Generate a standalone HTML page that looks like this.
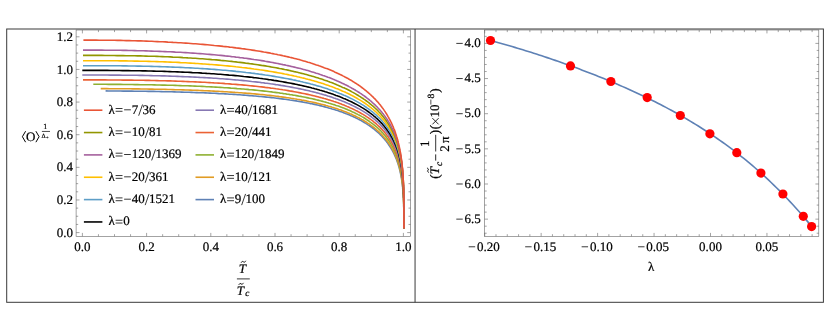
<!DOCTYPE html>
<html><head><meta charset="utf-8"><title>plot</title>
<style>html,body{margin:0;padding:0;background:#fff;}body{width:830px;height:331px;overflow:hidden;font-family:"Liberation Serif",serif;}svg{display:block;will-change:transform}.t .h{fill:none;stroke:none}.t text{font-family:"Liberation Serif",serif;fill:#000;text-rendering:geometricPrecision;stroke:#000;stroke-width:0.22px;}</style></head>
<body>
<svg width="830" height="331" viewBox="0 0 830 331">
<rect width="830" height="331" fill="#fff"/>
<g id="leftframe">
<rect x="76.10" y="30.00" width="334.50" height="206.30" fill="none" stroke="#666" stroke-width="0.6"/>
<line x1="82.40" y1="236.30" x2="82.40" y2="232.90" stroke="#666" stroke-width="0.6"/>
<line x1="82.40" y1="30.00" x2="82.40" y2="33.40" stroke="#666" stroke-width="0.6"/>
<line x1="98.45" y1="236.30" x2="98.45" y2="234.20" stroke="#666" stroke-width="0.6"/>
<line x1="98.45" y1="30.00" x2="98.45" y2="32.10" stroke="#666" stroke-width="0.6"/>
<line x1="114.50" y1="236.30" x2="114.50" y2="234.20" stroke="#666" stroke-width="0.6"/>
<line x1="114.50" y1="30.00" x2="114.50" y2="32.10" stroke="#666" stroke-width="0.6"/>
<line x1="130.55" y1="236.30" x2="130.55" y2="234.20" stroke="#666" stroke-width="0.6"/>
<line x1="130.55" y1="30.00" x2="130.55" y2="32.10" stroke="#666" stroke-width="0.6"/>
<line x1="146.60" y1="236.30" x2="146.60" y2="232.90" stroke="#666" stroke-width="0.6"/>
<line x1="146.60" y1="30.00" x2="146.60" y2="33.40" stroke="#666" stroke-width="0.6"/>
<line x1="162.65" y1="236.30" x2="162.65" y2="234.20" stroke="#666" stroke-width="0.6"/>
<line x1="162.65" y1="30.00" x2="162.65" y2="32.10" stroke="#666" stroke-width="0.6"/>
<line x1="178.70" y1="236.30" x2="178.70" y2="234.20" stroke="#666" stroke-width="0.6"/>
<line x1="178.70" y1="30.00" x2="178.70" y2="32.10" stroke="#666" stroke-width="0.6"/>
<line x1="194.75" y1="236.30" x2="194.75" y2="234.20" stroke="#666" stroke-width="0.6"/>
<line x1="194.75" y1="30.00" x2="194.75" y2="32.10" stroke="#666" stroke-width="0.6"/>
<line x1="210.80" y1="236.30" x2="210.80" y2="232.90" stroke="#666" stroke-width="0.6"/>
<line x1="210.80" y1="30.00" x2="210.80" y2="33.40" stroke="#666" stroke-width="0.6"/>
<line x1="226.85" y1="236.30" x2="226.85" y2="234.20" stroke="#666" stroke-width="0.6"/>
<line x1="226.85" y1="30.00" x2="226.85" y2="32.10" stroke="#666" stroke-width="0.6"/>
<line x1="242.90" y1="236.30" x2="242.90" y2="234.20" stroke="#666" stroke-width="0.6"/>
<line x1="242.90" y1="30.00" x2="242.90" y2="32.10" stroke="#666" stroke-width="0.6"/>
<line x1="258.95" y1="236.30" x2="258.95" y2="234.20" stroke="#666" stroke-width="0.6"/>
<line x1="258.95" y1="30.00" x2="258.95" y2="32.10" stroke="#666" stroke-width="0.6"/>
<line x1="275.00" y1="236.30" x2="275.00" y2="232.90" stroke="#666" stroke-width="0.6"/>
<line x1="275.00" y1="30.00" x2="275.00" y2="33.40" stroke="#666" stroke-width="0.6"/>
<line x1="291.05" y1="236.30" x2="291.05" y2="234.20" stroke="#666" stroke-width="0.6"/>
<line x1="291.05" y1="30.00" x2="291.05" y2="32.10" stroke="#666" stroke-width="0.6"/>
<line x1="307.10" y1="236.30" x2="307.10" y2="234.20" stroke="#666" stroke-width="0.6"/>
<line x1="307.10" y1="30.00" x2="307.10" y2="32.10" stroke="#666" stroke-width="0.6"/>
<line x1="323.15" y1="236.30" x2="323.15" y2="234.20" stroke="#666" stroke-width="0.6"/>
<line x1="323.15" y1="30.00" x2="323.15" y2="32.10" stroke="#666" stroke-width="0.6"/>
<line x1="339.20" y1="236.30" x2="339.20" y2="232.90" stroke="#666" stroke-width="0.6"/>
<line x1="339.20" y1="30.00" x2="339.20" y2="33.40" stroke="#666" stroke-width="0.6"/>
<line x1="355.25" y1="236.30" x2="355.25" y2="234.20" stroke="#666" stroke-width="0.6"/>
<line x1="355.25" y1="30.00" x2="355.25" y2="32.10" stroke="#666" stroke-width="0.6"/>
<line x1="371.30" y1="236.30" x2="371.30" y2="234.20" stroke="#666" stroke-width="0.6"/>
<line x1="371.30" y1="30.00" x2="371.30" y2="32.10" stroke="#666" stroke-width="0.6"/>
<line x1="387.35" y1="236.30" x2="387.35" y2="234.20" stroke="#666" stroke-width="0.6"/>
<line x1="387.35" y1="30.00" x2="387.35" y2="32.10" stroke="#666" stroke-width="0.6"/>
<line x1="403.40" y1="236.30" x2="403.40" y2="232.90" stroke="#666" stroke-width="0.6"/>
<line x1="403.40" y1="30.00" x2="403.40" y2="33.40" stroke="#666" stroke-width="0.6"/>
<line x1="76.10" y1="232.60" x2="79.50" y2="232.60" stroke="#666" stroke-width="0.6"/>
<line x1="410.60" y1="232.60" x2="407.20" y2="232.60" stroke="#666" stroke-width="0.6"/>
<line x1="76.10" y1="224.44" x2="78.20" y2="224.44" stroke="#666" stroke-width="0.6"/>
<line x1="410.60" y1="224.44" x2="408.50" y2="224.44" stroke="#666" stroke-width="0.6"/>
<line x1="76.10" y1="216.28" x2="78.20" y2="216.28" stroke="#666" stroke-width="0.6"/>
<line x1="410.60" y1="216.28" x2="408.50" y2="216.28" stroke="#666" stroke-width="0.6"/>
<line x1="76.10" y1="208.12" x2="78.20" y2="208.12" stroke="#666" stroke-width="0.6"/>
<line x1="410.60" y1="208.12" x2="408.50" y2="208.12" stroke="#666" stroke-width="0.6"/>
<line x1="76.10" y1="199.97" x2="79.50" y2="199.97" stroke="#666" stroke-width="0.6"/>
<line x1="410.60" y1="199.97" x2="407.20" y2="199.97" stroke="#666" stroke-width="0.6"/>
<line x1="76.10" y1="191.81" x2="78.20" y2="191.81" stroke="#666" stroke-width="0.6"/>
<line x1="410.60" y1="191.81" x2="408.50" y2="191.81" stroke="#666" stroke-width="0.6"/>
<line x1="76.10" y1="183.65" x2="78.20" y2="183.65" stroke="#666" stroke-width="0.6"/>
<line x1="410.60" y1="183.65" x2="408.50" y2="183.65" stroke="#666" stroke-width="0.6"/>
<line x1="76.10" y1="175.49" x2="78.20" y2="175.49" stroke="#666" stroke-width="0.6"/>
<line x1="410.60" y1="175.49" x2="408.50" y2="175.49" stroke="#666" stroke-width="0.6"/>
<line x1="76.10" y1="167.33" x2="79.50" y2="167.33" stroke="#666" stroke-width="0.6"/>
<line x1="410.60" y1="167.33" x2="407.20" y2="167.33" stroke="#666" stroke-width="0.6"/>
<line x1="76.10" y1="159.18" x2="78.20" y2="159.18" stroke="#666" stroke-width="0.6"/>
<line x1="410.60" y1="159.18" x2="408.50" y2="159.18" stroke="#666" stroke-width="0.6"/>
<line x1="76.10" y1="151.02" x2="78.20" y2="151.02" stroke="#666" stroke-width="0.6"/>
<line x1="410.60" y1="151.02" x2="408.50" y2="151.02" stroke="#666" stroke-width="0.6"/>
<line x1="76.10" y1="142.86" x2="78.20" y2="142.86" stroke="#666" stroke-width="0.6"/>
<line x1="410.60" y1="142.86" x2="408.50" y2="142.86" stroke="#666" stroke-width="0.6"/>
<line x1="76.10" y1="134.70" x2="79.50" y2="134.70" stroke="#666" stroke-width="0.6"/>
<line x1="410.60" y1="134.70" x2="407.20" y2="134.70" stroke="#666" stroke-width="0.6"/>
<line x1="76.10" y1="126.54" x2="78.20" y2="126.54" stroke="#666" stroke-width="0.6"/>
<line x1="410.60" y1="126.54" x2="408.50" y2="126.54" stroke="#666" stroke-width="0.6"/>
<line x1="76.10" y1="118.38" x2="78.20" y2="118.38" stroke="#666" stroke-width="0.6"/>
<line x1="410.60" y1="118.38" x2="408.50" y2="118.38" stroke="#666" stroke-width="0.6"/>
<line x1="76.10" y1="110.22" x2="78.20" y2="110.22" stroke="#666" stroke-width="0.6"/>
<line x1="410.60" y1="110.22" x2="408.50" y2="110.22" stroke="#666" stroke-width="0.6"/>
<line x1="76.10" y1="102.07" x2="79.50" y2="102.07" stroke="#666" stroke-width="0.6"/>
<line x1="410.60" y1="102.07" x2="407.20" y2="102.07" stroke="#666" stroke-width="0.6"/>
<line x1="76.10" y1="93.91" x2="78.20" y2="93.91" stroke="#666" stroke-width="0.6"/>
<line x1="410.60" y1="93.91" x2="408.50" y2="93.91" stroke="#666" stroke-width="0.6"/>
<line x1="76.10" y1="85.75" x2="78.20" y2="85.75" stroke="#666" stroke-width="0.6"/>
<line x1="410.60" y1="85.75" x2="408.50" y2="85.75" stroke="#666" stroke-width="0.6"/>
<line x1="76.10" y1="77.59" x2="78.20" y2="77.59" stroke="#666" stroke-width="0.6"/>
<line x1="410.60" y1="77.59" x2="408.50" y2="77.59" stroke="#666" stroke-width="0.6"/>
<line x1="76.10" y1="69.43" x2="79.50" y2="69.43" stroke="#666" stroke-width="0.6"/>
<line x1="410.60" y1="69.43" x2="407.20" y2="69.43" stroke="#666" stroke-width="0.6"/>
<line x1="76.10" y1="61.27" x2="78.20" y2="61.27" stroke="#666" stroke-width="0.6"/>
<line x1="410.60" y1="61.27" x2="408.50" y2="61.27" stroke="#666" stroke-width="0.6"/>
<line x1="76.10" y1="53.12" x2="78.20" y2="53.12" stroke="#666" stroke-width="0.6"/>
<line x1="410.60" y1="53.12" x2="408.50" y2="53.12" stroke="#666" stroke-width="0.6"/>
<line x1="76.10" y1="44.96" x2="78.20" y2="44.96" stroke="#666" stroke-width="0.6"/>
<line x1="410.60" y1="44.96" x2="408.50" y2="44.96" stroke="#666" stroke-width="0.6"/>
<line x1="76.10" y1="36.80" x2="79.50" y2="36.80" stroke="#666" stroke-width="0.6"/>
<line x1="410.60" y1="36.80" x2="407.20" y2="36.80" stroke="#666" stroke-width="0.6"/>
</g>
<g id="curves">
<path d="M105.6 90.9 L108.6 91.0 L111.5 91.0 L114.5 91.0 L117.4 91.0 L120.3 91.0 L123.2 91.1 L126.1 91.1 L128.9 91.1 L131.7 91.1 L134.5 91.2 L137.3 91.2 L140.1 91.2 L142.8 91.3 L145.6 91.3 L148.3 91.4 L151.0 91.4 L153.6 91.4 L156.3 91.5 L158.9 91.5 L161.5 91.6 L164.1 91.7 L166.7 91.7 L169.3 91.8 L171.8 91.8 L174.3 91.9 L176.8 92.0 L179.3 92.0 L181.8 92.1 L184.3 92.2 L186.7 92.2 L189.1 92.3 L191.5 92.4 L193.9 92.5 L196.2 92.6 L198.6 92.7 L200.9 92.7 L203.2 92.8 L205.5 92.9 L207.8 93.0 L210.0 93.1 L212.3 93.2 L214.5 93.3 L216.7 93.4 L218.9 93.6 L221.0 93.7 L223.2 93.8 L225.3 93.9 L227.4 94.0 L229.5 94.2 L231.6 94.3 L233.7 94.4 L235.7 94.5 L237.8 94.7 L239.8 94.8 L241.8 95.0 L243.8 95.1 L245.7 95.2 L247.7 95.4 L249.6 95.6 L251.6 95.7 L253.5 95.9 L255.3 96.0 L257.2 96.2 L259.1 96.4 L260.9 96.5 L262.7 96.7 L264.6 96.9 L266.3 97.1 L268.1 97.3 L269.9 97.4 L271.6 97.6 L273.4 97.8 L275.1 98.0 L276.8 98.2 L278.5 98.4 L280.1 98.7 L281.8 98.9 L283.4 99.1 L285.1 99.3 L286.7 99.5 L288.3 99.7 L289.9 100.0 L291.4 100.2 L293.0 100.4 L294.5 100.7 L296.1 100.9 L297.6 101.2 L299.1 101.4 L300.6 101.7 L302.0 101.9 L303.5 102.2 L304.9 102.5 L306.3 102.7 L307.8 103.0 L309.2 103.3 L310.5 103.6 L311.9 103.8 L313.3 104.1 L314.6 104.4 L316.0 104.7 L317.3 105.0 L318.6 105.3 L319.9 105.6 L321.2 105.9 L322.4 106.2 L323.7 106.6 L324.9 106.9 L326.1 107.2 L327.4 107.5 L328.6 107.9 L329.7 108.2 L330.9 108.5 L332.1 108.9 L333.2 109.2 L334.4 109.6 L335.5 109.9 L336.6 110.3 L337.7 110.6 L338.8 111.0 L339.9 111.4 L341.0 111.7 L342.0 112.1 L343.1 112.5 L344.1 112.9 L345.1 113.3 L346.1 113.7 L347.1 114.0 L348.1 114.4 L349.1 114.8 L350.0 115.2 L351.0 115.7 L351.9 116.1 L352.9 116.5 L353.8 116.9 L354.7 117.3 L355.6 117.8 L356.5 118.2 L357.3 118.6 L358.2 119.1 L359.0 119.5 L359.9 119.9 L360.7 120.4 L361.5 120.8 L362.3 121.3 L363.1 121.7 L363.9 122.2 L364.7 122.7 L365.5 123.1 L366.2 123.6 L367.0 124.1 L367.7 124.6 L368.5 125.1 L369.2 125.5 L369.9 126.0 L370.6 126.5 L371.3 127.0 L371.9 127.5 L372.6 128.0 L373.3 128.5 L373.9 129.0 L374.6 129.5 L375.2 130.1 L375.8 130.6 L376.4 131.1 L377.0 131.6 L377.6 132.2 L378.2 132.7 L378.8 133.2 L379.4 133.8 L379.9 134.3 L380.5 134.9 L381.0 135.4 L381.6 135.9 L382.1 136.5 L382.6 137.1 L383.1 137.6 L383.6 138.2 L384.1 138.7 L384.6 139.3 L385.1 139.9 L385.6 140.5 L386.0 141.0 L386.5 141.6 L386.9 142.2 L387.4 142.8 L387.8 143.4 L388.2 144.0 L388.6 144.6 L389.0 145.2 L389.4 145.8 L389.8 146.4 L390.2 147.0 L390.6 147.6 L391.0 148.2 L391.3 148.8 L391.7 149.4 L392.1 150.1 L392.4 150.7 L392.7 151.3 L393.1 151.9 L393.4 152.6 L393.7 153.2 L394.0 153.8 L394.3 154.5 L394.6 155.1 L394.9 155.8 L395.2 156.4 L395.5 157.1 L395.8 157.7 L396.0 158.4 L396.3 159.0 L396.6 159.7 L396.8 160.4 L397.0 161.0 L397.3 161.7 L397.5 162.4 L397.7 163.0 L398.0 163.7 L398.2 164.4 L398.4 165.1 L398.6 165.8 L398.8 166.4 L399.0 167.1 L399.2 167.8 L399.4 168.5 L399.6 169.2 L399.7 169.9 L399.9 170.6 L400.1 171.3 L400.2 172.0 L400.4 172.7 L400.5 173.4 L400.7 174.2 L400.8 174.9 L401.0 175.6 L401.1 176.3 L401.2 177.1 L401.4 177.8 L401.5 178.5 L401.6 179.2 L401.7 180.0 L401.8 180.7 L401.9 181.5 L402.0 182.2 L402.1 183.0 L402.2 183.7 L402.3 184.5 L402.4 185.2 L402.5 186.0 L402.6 186.7 L402.7 187.5 L402.7 188.3 L402.8 189.1 L402.9 189.8 L402.9 190.6 L403.0 191.4 L403.1 192.2 L403.1 193.0 L403.2 193.8 L403.2 194.6 L403.3 195.4 L403.3 196.2 L403.4 197.0 L403.4 197.8 L403.5 198.6 L403.5 199.4 L403.5 200.2 L403.6 201.1 L403.6 201.9 L403.6 202.7 L403.7 203.6 L403.7 204.4 L403.7 205.3 L403.7 206.2 L403.7 207.0 L403.8 207.9 L403.8 208.8 L403.8 209.7 L403.8 210.6 L403.8 211.5 L403.8 212.4 L403.8 213.3 L403.9 214.2 L403.9 215.2 L403.9 216.1 L403.9 217.1 L403.9 218.0 L403.9 219.0 L403.9 220.0 L403.9 221.1 L403.9 222.1 L403.9 223.2 L403.9 224.2 L403.9 225.4 L403.9 226.5 L403.9 227.7 L403.9 228.6" fill="none" stroke="#5E81B5" stroke-width="1.6" stroke-linejoin="round"/>
<path d="M100.7 88.6 L103.7 88.6 L106.7 88.6 L109.7 88.7 L112.7 88.7 L115.7 88.7 L118.6 88.7 L121.5 88.7 L124.4 88.8 L127.3 88.8 L130.1 88.8 L132.9 88.9 L135.8 88.9 L138.6 88.9 L141.3 89.0 L144.1 89.0 L146.8 89.0 L149.5 89.1 L152.2 89.1 L154.9 89.2 L157.6 89.2 L160.2 89.3 L162.8 89.3 L165.4 89.4 L168.0 89.5 L170.6 89.5 L173.1 89.6 L175.6 89.7 L178.2 89.7 L180.6 89.8 L183.1 89.9 L185.6 90.0 L188.0 90.0 L190.4 90.1 L192.8 90.2 L195.2 90.3 L197.6 90.4 L199.9 90.5 L202.2 90.6 L204.5 90.7 L206.8 90.8 L209.1 90.9 L211.4 91.0 L213.6 91.1 L215.8 91.2 L218.0 91.3 L220.2 91.5 L222.4 91.6 L224.5 91.7 L226.7 91.8 L228.8 92.0 L230.9 92.1 L233.0 92.2 L235.0 92.4 L237.1 92.5 L239.1 92.7 L241.1 92.8 L243.1 93.0 L245.1 93.1 L247.1 93.3 L249.1 93.4 L251.0 93.6 L252.9 93.8 L254.8 93.9 L256.7 94.1 L258.6 94.3 L260.4 94.5 L262.3 94.6 L264.1 94.8 L265.9 95.0 L267.7 95.2 L269.5 95.4 L271.2 95.6 L273.0 95.8 L274.7 96.0 L276.4 96.2 L278.1 96.4 L279.8 96.7 L281.5 96.9 L283.1 97.1 L284.8 97.3 L286.4 97.6 L288.0 97.8 L289.6 98.0 L291.2 98.3 L292.7 98.5 L294.3 98.8 L295.8 99.0 L297.3 99.3 L298.9 99.5 L300.3 99.8 L301.8 100.1 L303.3 100.3 L304.7 100.6 L306.2 100.9 L307.6 101.2 L309.0 101.5 L310.4 101.7 L311.8 102.0 L313.2 102.3 L314.5 102.6 L315.9 102.9 L317.2 103.2 L318.5 103.5 L319.8 103.9 L321.1 104.2 L322.4 104.5 L323.6 104.8 L324.9 105.1 L326.1 105.5 L327.3 105.8 L328.5 106.2 L329.7 106.5 L330.9 106.8 L332.1 107.2 L333.2 107.5 L334.4 107.9 L335.5 108.3 L336.6 108.6 L337.7 109.0 L338.8 109.4 L339.9 109.7 L341.0 110.1 L342.1 110.5 L343.1 110.9 L344.1 111.3 L345.2 111.7 L346.2 112.1 L347.2 112.5 L348.2 112.9 L349.2 113.3 L350.1 113.7 L351.1 114.1 L352.0 114.5 L352.9 115.0 L353.9 115.4 L354.8 115.8 L355.7 116.2 L356.6 116.7 L357.4 117.1 L358.3 117.6 L359.2 118.0 L360.0 118.5 L360.8 118.9 L361.7 119.4 L362.5 119.8 L363.3 120.3 L364.1 120.8 L364.8 121.2 L365.6 121.7 L366.4 122.2 L367.1 122.7 L367.9 123.2 L368.6 123.6 L369.3 124.1 L370.0 124.6 L370.7 125.1 L371.4 125.6 L372.1 126.1 L372.8 126.6 L373.4 127.2 L374.1 127.7 L374.7 128.2 L375.4 128.7 L376.0 129.2 L376.6 129.8 L377.2 130.3 L377.8 130.8 L378.4 131.4 L379.0 131.9 L379.6 132.4 L380.1 133.0 L380.7 133.5 L381.2 134.1 L381.7 134.6 L382.3 135.2 L382.8 135.8 L383.3 136.3 L383.8 136.9 L384.3 137.5 L384.8 138.0 L385.3 138.6 L385.7 139.2 L386.2 139.8 L386.6 140.4 L387.1 140.9 L387.5 141.5 L388.0 142.1 L388.4 142.7 L388.8 143.3 L389.2 143.9 L389.6 144.5 L390.0 145.1 L390.4 145.8 L390.8 146.4 L391.1 147.0 L391.5 147.6 L391.9 148.2 L392.2 148.8 L392.6 149.5 L392.9 150.1 L393.2 150.7 L393.5 151.4 L393.9 152.0 L394.2 152.7 L394.5 153.3 L394.8 153.9 L395.1 154.6 L395.4 155.2 L395.6 155.9 L395.9 156.6 L396.2 157.2 L396.4 157.9 L396.7 158.6 L396.9 159.2 L397.2 159.9 L397.4 160.6 L397.6 161.2 L397.9 161.9 L398.1 162.6 L398.3 163.3 L398.5 164.0 L398.7 164.7 L398.9 165.4 L399.1 166.1 L399.3 166.7 L399.5 167.5 L399.7 168.2 L399.8 168.9 L400.0 169.6 L400.2 170.3 L400.3 171.0 L400.5 171.7 L400.6 172.4 L400.8 173.2 L400.9 173.9 L401.1 174.6 L401.2 175.3 L401.3 176.1 L401.4 176.8 L401.6 177.6 L401.7 178.3 L401.8 179.0 L401.9 179.8 L402.0 180.5 L402.1 181.3 L402.2 182.1 L402.3 182.8 L402.4 183.6 L402.5 184.4 L402.6 185.1 L402.6 185.9 L402.7 186.7 L402.8 187.5 L402.9 188.3 L402.9 189.0 L403.0 189.8 L403.1 190.6 L403.1 191.4 L403.2 192.2 L403.2 193.1 L403.3 193.9 L403.3 194.7 L403.4 195.5 L403.4 196.3 L403.5 197.2 L403.5 198.0 L403.5 198.8 L403.6 199.7 L403.6 200.5 L403.6 201.4 L403.7 202.3 L403.7 203.1 L403.7 204.0 L403.7 204.9 L403.7 205.8 L403.8 206.7 L403.8 207.6 L403.8 208.5 L403.8 209.4 L403.8 210.3 L403.8 211.3 L403.8 212.2 L403.9 213.2 L403.9 214.2 L403.9 215.1 L403.9 216.1 L403.9 217.2 L403.9 218.2 L403.9 219.2 L403.9 220.3 L403.9 221.4 L403.9 222.5 L403.9 223.6 L403.9 224.8 L403.9 226.0 L403.9 227.3 L403.9 228.6" fill="none" stroke="#E19C24" stroke-width="1.6" stroke-linejoin="round"/>
<path d="M93.3 84.3 L96.4 84.3 L99.5 84.3 L102.6 84.3 L105.6 84.3 L108.6 84.4 L111.6 84.4 L114.6 84.4 L117.6 84.4 L120.5 84.4 L123.4 84.5 L126.3 84.5 L129.2 84.5 L132.1 84.5 L134.9 84.6 L137.7 84.6 L140.5 84.7 L143.3 84.7 L146.1 84.7 L148.8 84.8 L151.6 84.8 L154.3 84.9 L156.9 85.0 L159.6 85.0 L162.3 85.1 L164.9 85.1 L167.5 85.2 L170.1 85.3 L172.6 85.3 L175.2 85.4 L177.7 85.5 L180.2 85.6 L182.7 85.7 L185.2 85.7 L187.7 85.8 L190.1 85.9 L192.5 86.0 L194.9 86.1 L197.3 86.2 L199.7 86.3 L202.0 86.4 L204.4 86.5 L206.7 86.7 L209.0 86.8 L211.2 86.9 L213.5 87.0 L215.7 87.1 L218.0 87.3 L220.2 87.4 L222.3 87.5 L224.5 87.7 L226.7 87.8 L228.8 87.9 L230.9 88.1 L233.0 88.2 L235.1 88.4 L237.2 88.6 L239.2 88.7 L241.3 88.9 L243.3 89.0 L245.3 89.2 L247.3 89.4 L249.2 89.6 L251.2 89.7 L253.1 89.9 L255.0 90.1 L256.9 90.3 L258.8 90.5 L260.7 90.7 L262.5 90.9 L264.4 91.1 L266.2 91.3 L268.0 91.5 L269.8 91.7 L271.5 91.9 L273.3 92.2 L275.0 92.4 L276.8 92.6 L278.5 92.8 L280.2 93.1 L281.9 93.3 L283.5 93.6 L285.2 93.8 L286.8 94.1 L288.4 94.3 L290.0 94.6 L291.6 94.8 L293.2 95.1 L294.7 95.3 L296.3 95.6 L297.8 95.9 L299.3 96.2 L300.8 96.4 L302.3 96.7 L303.8 97.0 L305.3 97.3 L306.7 97.6 L308.1 97.9 L309.5 98.2 L310.9 98.5 L312.3 98.8 L313.7 99.1 L315.1 99.4 L316.4 99.8 L317.7 100.1 L319.1 100.4 L320.4 100.8 L321.7 101.1 L322.9 101.4 L324.2 101.8 L325.5 102.1 L326.7 102.5 L327.9 102.8 L329.1 103.2 L330.3 103.5 L331.5 103.9 L332.7 104.3 L333.9 104.6 L335.0 105.0 L336.1 105.4 L337.3 105.8 L338.4 106.1 L339.5 106.5 L340.6 106.9 L341.6 107.3 L342.7 107.7 L343.7 108.1 L344.8 108.5 L345.8 108.9 L346.8 109.3 L347.8 109.8 L348.8 110.2 L349.8 110.6 L350.7 111.0 L351.7 111.5 L352.6 111.9 L353.6 112.3 L354.5 112.8 L355.4 113.2 L356.3 113.7 L357.2 114.1 L358.1 114.6 L358.9 115.0 L359.8 115.5 L360.6 115.9 L361.5 116.4 L362.3 116.9 L363.1 117.3 L363.9 117.8 L364.7 118.3 L365.5 118.8 L366.2 119.3 L367.0 119.8 L367.7 120.3 L368.5 120.8 L369.2 121.2 L369.9 121.8 L370.6 122.3 L371.3 122.8 L372.0 123.3 L372.7 123.8 L373.4 124.3 L374.0 124.8 L374.7 125.4 L375.3 125.9 L375.9 126.4 L376.6 127.0 L377.2 127.5 L377.8 128.0 L378.4 128.6 L379.0 129.1 L379.5 129.7 L380.1 130.2 L380.7 130.8 L381.2 131.3 L381.7 131.9 L382.3 132.5 L382.8 133.0 L383.3 133.6 L383.8 134.2 L384.3 134.7 L384.8 135.3 L385.3 135.9 L385.8 136.5 L386.2 137.1 L386.7 137.7 L387.1 138.3 L387.6 138.9 L388.0 139.5 L388.4 140.1 L388.9 140.7 L389.3 141.3 L389.7 141.9 L390.1 142.5 L390.4 143.1 L390.8 143.7 L391.2 144.4 L391.6 145.0 L391.9 145.6 L392.3 146.2 L392.6 146.9 L393.0 147.5 L393.3 148.2 L393.6 148.8 L393.9 149.4 L394.2 150.1 L394.6 150.7 L394.9 151.4 L395.1 152.0 L395.4 152.7 L395.7 153.4 L396.0 154.0 L396.2 154.7 L396.5 155.4 L396.8 156.0 L397.0 156.7 L397.3 157.4 L397.5 158.1 L397.7 158.8 L398.0 159.4 L398.2 160.1 L398.4 160.8 L398.6 161.5 L398.8 162.2 L399.0 162.9 L399.2 163.6 L399.4 164.3 L399.6 165.0 L399.7 165.8 L399.9 166.5 L400.1 167.2 L400.2 167.9 L400.4 168.6 L400.6 169.4 L400.7 170.1 L400.9 170.8 L401.0 171.6 L401.1 172.3 L401.3 173.1 L401.4 173.8 L401.5 174.6 L401.6 175.3 L401.7 176.1 L401.9 176.8 L402.0 177.6 L402.1 178.4 L402.2 179.2 L402.3 179.9 L402.4 180.7 L402.4 181.5 L402.5 182.3 L402.6 183.1 L402.7 183.9 L402.8 184.7 L402.8 185.5 L402.9 186.3 L403.0 187.1 L403.0 187.9 L403.1 188.7 L403.2 189.6 L403.2 190.4 L403.3 191.2 L403.3 192.1 L403.4 192.9 L403.4 193.8 L403.4 194.6 L403.5 195.5 L403.5 196.4 L403.6 197.2 L403.6 198.1 L403.6 199.0 L403.6 199.9 L403.7 200.8 L403.7 201.7 L403.7 202.6 L403.7 203.6 L403.8 204.5 L403.8 205.4 L403.8 206.4 L403.8 207.4 L403.8 208.3 L403.8 209.3 L403.8 210.3 L403.9 211.3 L403.9 212.4 L403.9 213.4 L403.9 214.4 L403.9 215.5 L403.9 216.6 L403.9 217.7 L403.9 218.9 L403.9 220.0 L403.9 221.2 L403.9 222.5 L403.9 223.8 L403.9 225.1 L403.9 226.5 L403.9 228.1 L403.9 228.6" fill="none" stroke="#8FB032" stroke-width="1.6" stroke-linejoin="round"/>
<path d="M83.0 79.9 L86.2 79.9 L89.4 79.9 L92.6 79.9 L95.7 79.9 L98.8 79.9 L101.9 79.9 L105.0 79.9 L108.1 80.0 L111.1 80.0 L114.1 80.0 L117.1 80.0 L120.1 80.0 L123.1 80.1 L126.0 80.1 L128.9 80.1 L131.8 80.1 L134.7 80.2 L137.5 80.2 L140.4 80.3 L143.2 80.3 L146.0 80.4 L148.8 80.4 L151.5 80.5 L154.2 80.5 L157.0 80.6 L159.6 80.7 L162.3 80.7 L165.0 80.8 L167.6 80.9 L170.2 80.9 L172.8 81.0 L175.4 81.1 L178.0 81.2 L180.5 81.3 L183.0 81.4 L185.5 81.5 L188.0 81.6 L190.5 81.7 L192.9 81.8 L195.3 81.9 L197.7 82.0 L200.1 82.1 L202.5 82.2 L204.8 82.3 L207.2 82.5 L209.5 82.6 L211.8 82.7 L214.1 82.9 L216.3 83.0 L218.6 83.1 L220.8 83.3 L223.0 83.4 L225.2 83.6 L227.4 83.7 L229.5 83.9 L231.6 84.1 L233.8 84.2 L235.9 84.4 L237.9 84.6 L240.0 84.8 L242.1 84.9 L244.1 85.1 L246.1 85.3 L248.1 85.5 L250.1 85.7 L252.0 85.9 L254.0 86.1 L255.9 86.3 L257.8 86.5 L259.7 86.7 L261.6 86.9 L263.5 87.1 L265.3 87.4 L267.2 87.6 L269.0 87.8 L270.8 88.1 L272.6 88.3 L274.3 88.5 L276.1 88.8 L277.8 89.0 L279.5 89.3 L281.2 89.5 L282.9 89.8 L284.6 90.0 L286.2 90.3 L287.9 90.6 L289.5 90.9 L291.1 91.1 L292.7 91.4 L294.3 91.7 L295.9 92.0 L297.4 92.3 L299.0 92.6 L300.5 92.9 L302.0 93.2 L303.5 93.5 L305.0 93.8 L306.4 94.1 L307.9 94.4 L309.3 94.7 L310.7 95.0 L312.1 95.4 L313.5 95.7 L314.9 96.0 L316.2 96.4 L317.6 96.7 L318.9 97.1 L320.3 97.4 L321.6 97.8 L322.9 98.1 L324.1 98.5 L325.4 98.8 L326.7 99.2 L327.9 99.6 L329.1 99.9 L330.3 100.3 L331.5 100.7 L332.7 101.1 L333.9 101.5 L335.0 101.8 L336.2 102.2 L337.3 102.6 L338.5 103.0 L339.6 103.4 L340.7 103.8 L341.7 104.3 L342.8 104.7 L343.9 105.1 L344.9 105.5 L346.0 105.9 L347.0 106.4 L348.0 106.8 L349.0 107.2 L350.0 107.7 L350.9 108.1 L351.9 108.6 L352.9 109.0 L353.8 109.4 L354.7 109.9 L355.6 110.4 L356.5 110.8 L357.4 111.3 L358.3 111.8 L359.2 112.2 L360.1 112.7 L360.9 113.2 L361.7 113.7 L362.6 114.1 L363.4 114.6 L364.2 115.1 L365.0 115.6 L365.8 116.1 L366.5 116.6 L367.3 117.1 L368.1 117.6 L368.8 118.1 L369.5 118.6 L370.2 119.1 L371.0 119.7 L371.7 120.2 L372.4 120.7 L373.0 121.2 L373.7 121.8 L374.4 122.3 L375.0 122.8 L375.7 123.4 L376.3 123.9 L376.9 124.5 L377.5 125.0 L378.1 125.6 L378.7 126.1 L379.3 126.7 L379.9 127.2 L380.5 127.8 L381.0 128.4 L381.6 128.9 L382.1 129.5 L382.6 130.1 L383.2 130.7 L383.7 131.2 L384.2 131.8 L384.7 132.4 L385.2 133.0 L385.6 133.6 L386.1 134.2 L386.6 134.8 L387.0 135.4 L387.5 136.0 L387.9 136.6 L388.4 137.2 L388.8 137.8 L389.2 138.5 L389.6 139.1 L390.0 139.7 L390.4 140.3 L390.8 140.9 L391.2 141.6 L391.5 142.2 L391.9 142.8 L392.3 143.5 L392.6 144.1 L392.9 144.8 L393.3 145.4 L393.6 146.1 L393.9 146.7 L394.2 147.4 L394.6 148.0 L394.9 148.7 L395.1 149.4 L395.4 150.0 L395.7 150.7 L396.0 151.4 L396.3 152.1 L396.5 152.7 L396.8 153.4 L397.0 154.1 L397.3 154.8 L397.5 155.5 L397.8 156.2 L398.0 156.9 L398.2 157.6 L398.4 158.3 L398.6 159.0 L398.8 159.7 L399.0 160.4 L399.2 161.1 L399.4 161.9 L399.6 162.6 L399.8 163.3 L400.0 164.0 L400.1 164.8 L400.3 165.5 L400.4 166.3 L400.6 167.0 L400.8 167.7 L400.9 168.5 L401.0 169.2 L401.2 170.0 L401.3 170.8 L401.4 171.5 L401.6 172.3 L401.7 173.1 L401.8 173.8 L401.9 174.6 L402.0 175.4 L402.1 176.2 L402.2 177.0 L402.3 177.8 L402.4 178.6 L402.5 179.4 L402.6 180.2 L402.7 181.0 L402.7 181.8 L402.8 182.7 L402.9 183.5 L402.9 184.3 L403.0 185.2 L403.1 186.0 L403.1 186.9 L403.2 187.7 L403.2 188.6 L403.3 189.4 L403.3 190.3 L403.4 191.2 L403.4 192.1 L403.5 193.0 L403.5 193.9 L403.5 194.8 L403.6 195.7 L403.6 196.6 L403.6 197.5 L403.7 198.5 L403.7 199.4 L403.7 200.4 L403.7 201.3 L403.8 202.3 L403.8 203.3 L403.8 204.3 L403.8 205.3 L403.8 206.3 L403.8 207.3 L403.8 208.4 L403.9 209.5 L403.9 210.5 L403.9 211.6 L403.9 212.7 L403.9 213.9 L403.9 215.0 L403.9 216.2 L403.9 217.5 L403.9 218.7 L403.9 220.0 L403.9 221.3 L403.9 222.7 L403.9 224.2 L403.9 225.8 L403.9 227.5 L403.9 228.6 L403.9 228.6 L403.9 228.6" fill="none" stroke="#EB6235" stroke-width="1.6" stroke-linejoin="round"/>
<path d="M82.3 75.0 L85.5 75.0 L88.7 75.0 L91.9 75.0 L95.0 75.0 L98.2 75.0 L101.3 75.0 L104.4 75.0 L107.4 75.0 L110.5 75.1 L113.5 75.1 L116.5 75.1 L119.5 75.1 L122.5 75.2 L125.4 75.2 L128.3 75.2 L131.2 75.3 L134.1 75.3 L137.0 75.3 L139.8 75.4 L142.6 75.4 L145.4 75.5 L148.2 75.5 L151.0 75.6 L153.7 75.7 L156.4 75.7 L159.1 75.8 L161.8 75.9 L164.5 75.9 L167.1 76.0 L169.7 76.1 L172.3 76.2 L174.9 76.3 L177.5 76.4 L180.0 76.5 L182.5 76.6 L185.0 76.7 L187.5 76.8 L190.0 76.9 L192.4 77.0 L194.9 77.1 L197.3 77.2 L199.7 77.4 L202.1 77.5 L204.4 77.6 L206.7 77.8 L209.1 77.9 L211.4 78.0 L213.7 78.2 L215.9 78.3 L218.2 78.5 L220.4 78.7 L222.6 78.8 L224.8 79.0 L227.0 79.1 L229.1 79.3 L231.3 79.5 L233.4 79.7 L235.5 79.9 L237.6 80.0 L239.7 80.2 L241.7 80.4 L243.7 80.6 L245.8 80.8 L247.8 81.0 L249.7 81.2 L251.7 81.5 L253.7 81.7 L255.6 81.9 L257.5 82.1 L259.4 82.3 L261.3 82.6 L263.2 82.8 L265.0 83.1 L266.9 83.3 L268.7 83.5 L270.5 83.8 L272.3 84.0 L274.0 84.3 L275.8 84.6 L277.5 84.8 L279.3 85.1 L281.0 85.4 L282.7 85.6 L284.3 85.9 L286.0 86.2 L287.6 86.5 L289.3 86.8 L290.9 87.1 L292.5 87.4 L294.1 87.7 L295.6 88.0 L297.2 88.3 L298.7 88.6 L300.3 88.9 L301.8 89.2 L303.3 89.5 L304.7 89.9 L306.2 90.2 L307.7 90.5 L309.1 90.8 L310.5 91.2 L311.9 91.5 L313.3 91.9 L314.7 92.2 L316.1 92.6 L317.4 92.9 L318.7 93.3 L320.1 93.7 L321.4 94.0 L322.7 94.4 L324.0 94.8 L325.2 95.1 L326.5 95.5 L327.7 95.9 L329.0 96.3 L330.2 96.7 L331.4 97.1 L332.6 97.5 L333.7 97.9 L334.9 98.3 L336.0 98.7 L337.2 99.1 L338.3 99.5 L339.4 99.9 L340.5 100.3 L341.6 100.8 L342.7 101.2 L343.7 101.6 L344.8 102.0 L345.8 102.5 L346.9 102.9 L347.9 103.4 L348.9 103.8 L349.9 104.3 L350.8 104.7 L351.8 105.2 L352.7 105.6 L353.7 106.1 L354.6 106.6 L355.5 107.0 L356.4 107.5 L357.3 108.0 L358.2 108.4 L359.1 108.9 L360.0 109.4 L360.8 109.9 L361.6 110.4 L362.5 110.9 L363.3 111.4 L364.1 111.9 L364.9 112.4 L365.7 112.9 L366.5 113.4 L367.2 113.9 L368.0 114.4 L368.7 114.9 L369.5 115.5 L370.2 116.0 L370.9 116.5 L371.6 117.0 L372.3 117.6 L373.0 118.1 L373.6 118.6 L374.3 119.2 L375.0 119.7 L375.6 120.3 L376.2 120.8 L376.9 121.4 L377.5 121.9 L378.1 122.5 L378.7 123.0 L379.3 123.6 L379.8 124.2 L380.4 124.7 L381.0 125.3 L381.5 125.9 L382.1 126.5 L382.6 127.1 L383.1 127.6 L383.6 128.2 L384.1 128.8 L384.6 129.4 L385.1 130.0 L385.6 130.6 L386.1 131.2 L386.5 131.8 L387.0 132.4 L387.4 133.0 L387.9 133.6 L388.3 134.2 L388.7 134.9 L389.2 135.5 L389.6 136.1 L390.0 136.7 L390.4 137.4 L390.8 138.0 L391.1 138.6 L391.5 139.3 L391.9 139.9 L392.2 140.6 L392.6 141.2 L392.9 141.9 L393.3 142.5 L393.6 143.2 L393.9 143.8 L394.2 144.5 L394.5 145.2 L394.8 145.8 L395.1 146.5 L395.4 147.2 L395.7 147.8 L396.0 148.5 L396.2 149.2 L396.5 149.9 L396.8 150.6 L397.0 151.3 L397.3 152.0 L397.5 152.7 L397.7 153.4 L398.0 154.1 L398.2 154.8 L398.4 155.5 L398.6 156.2 L398.8 156.9 L399.0 157.6 L399.2 158.4 L399.4 159.1 L399.6 159.8 L399.8 160.6 L399.9 161.3 L400.1 162.0 L400.3 162.8 L400.4 163.5 L400.6 164.3 L400.7 165.0 L400.9 165.8 L401.0 166.6 L401.2 167.3 L401.3 168.1 L401.4 168.9 L401.6 169.6 L401.7 170.4 L401.8 171.2 L401.9 172.0 L402.0 172.8 L402.1 173.6 L402.2 174.4 L402.3 175.2 L402.4 176.0 L402.5 176.8 L402.6 177.7 L402.7 178.5 L402.7 179.3 L402.8 180.2 L402.9 181.0 L402.9 181.9 L403.0 182.7 L403.1 183.6 L403.1 184.4 L403.2 185.3 L403.2 186.2 L403.3 187.1 L403.3 188.0 L403.4 188.9 L403.4 189.8 L403.5 190.7 L403.5 191.6 L403.5 192.5 L403.6 193.5 L403.6 194.4 L403.6 195.4 L403.7 196.3 L403.7 197.3 L403.7 198.3 L403.7 199.3 L403.8 200.3 L403.8 201.3 L403.8 202.4 L403.8 203.4 L403.8 204.5 L403.8 205.5 L403.8 206.6 L403.9 207.7 L403.9 208.9 L403.9 210.0 L403.9 211.2 L403.9 212.4 L403.9 213.6 L403.9 214.8 L403.9 216.1 L403.9 217.5 L403.9 218.8 L403.9 220.2 L403.9 221.7 L403.9 223.3 L403.9 225.0 L403.9 226.8 L403.9 228.1 L403.9 228.1 L403.9 228.6" fill="none" stroke="#8778B3" stroke-width="1.6" stroke-linejoin="round"/>
<path d="M82.3 70.4 L85.5 70.4 L88.7 70.4 L91.9 70.4 L95.0 70.4 L98.2 70.4 L101.3 70.4 L104.4 70.4 L107.4 70.4 L110.5 70.5 L113.5 70.5 L116.5 70.5 L119.5 70.5 L122.5 70.6 L125.4 70.6 L128.3 70.6 L131.2 70.7 L134.1 70.7 L137.0 70.8 L139.8 70.8 L142.6 70.9 L145.4 70.9 L148.2 71.0 L151.0 71.0 L153.7 71.1 L156.4 71.2 L159.1 71.2 L161.8 71.3 L164.5 71.4 L167.1 71.5 L169.7 71.6 L172.3 71.7 L174.9 71.8 L177.5 71.9 L180.0 72.0 L182.5 72.1 L185.0 72.2 L187.5 72.3 L190.0 72.4 L192.4 72.6 L194.9 72.7 L197.3 72.8 L199.7 72.9 L202.1 73.1 L204.4 73.2 L206.7 73.4 L209.1 73.5 L211.4 73.7 L213.7 73.8 L215.9 74.0 L218.2 74.2 L220.4 74.3 L222.6 74.5 L224.8 74.7 L227.0 74.9 L229.1 75.1 L231.3 75.2 L233.4 75.4 L235.5 75.6 L237.6 75.8 L239.7 76.0 L241.7 76.2 L243.7 76.5 L245.8 76.7 L247.8 76.9 L249.7 77.1 L251.7 77.3 L253.7 77.6 L255.6 77.8 L257.5 78.0 L259.4 78.3 L261.3 78.5 L263.2 78.8 L265.0 79.0 L266.9 79.3 L268.7 79.6 L270.5 79.8 L272.3 80.1 L274.0 80.4 L275.8 80.6 L277.5 80.9 L279.3 81.2 L281.0 81.5 L282.7 81.8 L284.3 82.1 L286.0 82.4 L287.6 82.7 L289.3 83.0 L290.9 83.3 L292.5 83.6 L294.1 83.9 L295.6 84.2 L297.2 84.5 L298.7 84.9 L300.3 85.2 L301.8 85.5 L303.3 85.9 L304.7 86.2 L306.2 86.5 L307.7 86.9 L309.1 87.2 L310.5 87.6 L311.9 88.0 L313.3 88.3 L314.7 88.7 L316.1 89.0 L317.4 89.4 L318.7 89.8 L320.1 90.2 L321.4 90.5 L322.7 90.9 L324.0 91.3 L325.2 91.7 L326.5 92.1 L327.7 92.5 L329.0 92.9 L330.2 93.3 L331.4 93.7 L332.6 94.1 L333.7 94.5 L334.9 94.9 L336.0 95.4 L337.2 95.8 L338.3 96.2 L339.4 96.6 L340.5 97.1 L341.6 97.5 L342.7 98.0 L343.7 98.4 L344.8 98.8 L345.8 99.3 L346.9 99.7 L347.9 100.2 L348.9 100.7 L349.9 101.1 L350.8 101.6 L351.8 102.0 L352.7 102.5 L353.7 103.0 L354.6 103.5 L355.5 103.9 L356.4 104.4 L357.3 104.9 L358.2 105.4 L359.1 105.9 L360.0 106.4 L360.8 106.9 L361.6 107.4 L362.5 107.9 L363.3 108.4 L364.1 108.9 L364.9 109.4 L365.7 109.9 L366.5 110.4 L367.2 111.0 L368.0 111.5 L368.7 112.0 L369.5 112.5 L370.2 113.1 L370.9 113.6 L371.6 114.2 L372.3 114.7 L373.0 115.2 L373.6 115.8 L374.3 116.3 L375.0 116.9 L375.6 117.4 L376.2 118.0 L376.9 118.6 L377.5 119.1 L378.1 119.7 L378.7 120.3 L379.3 120.8 L379.8 121.4 L380.4 122.0 L381.0 122.6 L381.5 123.2 L382.1 123.7 L382.6 124.3 L383.1 124.9 L383.6 125.5 L384.1 126.1 L384.6 126.7 L385.1 127.3 L385.6 127.9 L386.1 128.5 L386.5 129.1 L387.0 129.8 L387.4 130.4 L387.9 131.0 L388.3 131.6 L388.7 132.2 L389.2 132.9 L389.6 133.5 L390.0 134.1 L390.4 134.8 L390.8 135.4 L391.1 136.1 L391.5 136.7 L391.9 137.3 L392.2 138.0 L392.6 138.7 L392.9 139.3 L393.3 140.0 L393.6 140.6 L393.9 141.3 L394.2 142.0 L394.5 142.6 L394.8 143.3 L395.1 144.0 L395.4 144.7 L395.7 145.4 L396.0 146.0 L396.2 146.7 L396.5 147.4 L396.8 148.1 L397.0 148.8 L397.3 149.5 L397.5 150.2 L397.7 150.9 L398.0 151.7 L398.2 152.4 L398.4 153.1 L398.6 153.8 L398.8 154.5 L399.0 155.3 L399.2 156.0 L399.4 156.7 L399.6 157.5 L399.8 158.2 L399.9 159.0 L400.1 159.7 L400.3 160.5 L400.4 161.2 L400.6 162.0 L400.7 162.7 L400.9 163.5 L401.0 164.3 L401.2 165.1 L401.3 165.8 L401.4 166.6 L401.6 167.4 L401.7 168.2 L401.8 169.0 L401.9 169.8 L402.0 170.6 L402.1 171.4 L402.2 172.3 L402.3 173.1 L402.4 173.9 L402.5 174.7 L402.6 175.6 L402.7 176.4 L402.7 177.3 L402.8 178.1 L402.9 179.0 L402.9 179.8 L403.0 180.7 L403.1 181.6 L403.1 182.5 L403.2 183.4 L403.2 184.3 L403.3 185.2 L403.3 186.1 L403.4 187.0 L403.4 187.9 L403.5 188.8 L403.5 189.8 L403.5 190.7 L403.6 191.7 L403.6 192.7 L403.6 193.6 L403.7 194.6 L403.7 195.6 L403.7 196.6 L403.7 197.7 L403.8 198.7 L403.8 199.7 L403.8 200.8 L403.8 201.9 L403.8 203.0 L403.8 204.1 L403.8 205.2 L403.9 206.4 L403.9 207.5 L403.9 208.7 L403.9 209.9 L403.9 211.2 L403.9 212.4 L403.9 213.7 L403.9 215.1 L403.9 216.4 L403.9 217.9 L403.9 219.4 L403.9 220.9 L403.9 222.6 L403.9 224.4 L403.9 226.4 L403.9 227.7 L403.9 227.7 L403.9 228.6" fill="none" stroke="#000000" stroke-width="1.6" stroke-linejoin="round"/>
<path d="M83.0 65.7 L86.2 65.7 L89.4 65.7 L92.6 65.7 L95.7 65.7 L98.8 65.7 L101.9 65.7 L105.0 65.7 L108.1 65.8 L111.1 65.8 L114.1 65.8 L117.1 65.8 L120.1 65.8 L123.1 65.9 L126.0 65.9 L128.9 66.0 L131.8 66.0 L134.7 66.0 L137.5 66.1 L140.4 66.1 L143.2 66.2 L146.0 66.3 L148.8 66.3 L151.5 66.4 L154.2 66.5 L157.0 66.5 L159.6 66.6 L162.3 66.7 L165.0 66.8 L167.6 66.9 L170.2 67.0 L172.8 67.1 L175.4 67.2 L178.0 67.3 L180.5 67.4 L183.0 67.5 L185.5 67.7 L188.0 67.8 L190.5 67.9 L192.9 68.0 L195.3 68.2 L197.7 68.3 L200.1 68.5 L202.5 68.6 L204.8 68.8 L207.2 68.9 L209.5 69.1 L211.8 69.3 L214.1 69.4 L216.3 69.6 L218.6 69.8 L220.8 70.0 L223.0 70.2 L225.2 70.3 L227.4 70.5 L229.5 70.7 L231.6 70.9 L233.8 71.1 L235.9 71.4 L237.9 71.6 L240.0 71.8 L242.1 72.0 L244.1 72.2 L246.1 72.5 L248.1 72.7 L250.1 72.9 L252.0 73.2 L254.0 73.4 L255.9 73.7 L257.8 73.9 L259.7 74.2 L261.6 74.4 L263.5 74.7 L265.3 75.0 L267.2 75.2 L269.0 75.5 L270.8 75.8 L272.6 76.1 L274.3 76.4 L276.1 76.7 L277.8 77.0 L279.5 77.3 L281.2 77.6 L282.9 77.9 L284.6 78.2 L286.2 78.5 L287.9 78.8 L289.5 79.1 L291.1 79.4 L292.7 79.8 L294.3 80.1 L295.9 80.4 L297.4 80.8 L299.0 81.1 L300.5 81.5 L302.0 81.8 L303.5 82.2 L305.0 82.5 L306.4 82.9 L307.9 83.2 L309.3 83.6 L310.7 84.0 L312.1 84.3 L313.5 84.7 L314.9 85.1 L316.2 85.5 L317.6 85.9 L318.9 86.2 L320.3 86.6 L321.6 87.0 L322.9 87.4 L324.1 87.8 L325.4 88.2 L326.7 88.6 L327.9 89.1 L329.1 89.5 L330.3 89.9 L331.5 90.3 L332.7 90.7 L333.9 91.2 L335.0 91.6 L336.2 92.0 L337.3 92.5 L338.5 92.9 L339.6 93.4 L340.7 93.8 L341.7 94.2 L342.8 94.7 L343.9 95.2 L344.9 95.6 L346.0 96.1 L347.0 96.5 L348.0 97.0 L349.0 97.5 L350.0 98.0 L350.9 98.4 L351.9 98.9 L352.9 99.4 L353.8 99.9 L354.7 100.4 L355.6 100.9 L356.5 101.4 L357.4 101.9 L358.3 102.4 L359.2 102.9 L360.1 103.4 L360.9 103.9 L361.7 104.4 L362.6 104.9 L363.4 105.4 L364.2 105.9 L365.0 106.5 L365.8 107.0 L366.5 107.5 L367.3 108.1 L368.1 108.6 L368.8 109.1 L369.5 109.7 L370.2 110.2 L371.0 110.8 L371.7 111.3 L372.4 111.9 L373.0 112.4 L373.7 113.0 L374.4 113.5 L375.0 114.1 L375.7 114.7 L376.3 115.2 L376.9 115.8 L377.5 116.4 L378.1 117.0 L378.7 117.5 L379.3 118.1 L379.9 118.7 L380.5 119.3 L381.0 119.9 L381.6 120.5 L382.1 121.1 L382.6 121.7 L383.2 122.3 L383.7 122.9 L384.2 123.5 L384.7 124.1 L385.2 124.7 L385.6 125.3 L386.1 126.0 L386.6 126.6 L387.0 127.2 L387.5 127.8 L387.9 128.5 L388.4 129.1 L388.8 129.7 L389.2 130.4 L389.6 131.0 L390.0 131.6 L390.4 132.3 L390.8 132.9 L391.2 133.6 L391.5 134.3 L391.9 134.9 L392.3 135.6 L392.6 136.2 L392.9 136.9 L393.3 137.6 L393.6 138.2 L393.9 138.9 L394.2 139.6 L394.6 140.3 L394.9 141.0 L395.1 141.7 L395.4 142.4 L395.7 143.0 L396.0 143.7 L396.3 144.4 L396.5 145.1 L396.8 145.9 L397.0 146.6 L397.3 147.3 L397.5 148.0 L397.8 148.7 L398.0 149.4 L398.2 150.2 L398.4 150.9 L398.6 151.6 L398.8 152.4 L399.0 153.1 L399.2 153.8 L399.4 154.6 L399.6 155.3 L399.8 156.1 L400.0 156.9 L400.1 157.6 L400.3 158.4 L400.4 159.2 L400.6 159.9 L400.8 160.7 L400.9 161.5 L401.0 162.3 L401.2 163.1 L401.3 163.9 L401.4 164.7 L401.6 165.5 L401.7 166.3 L401.8 167.1 L401.9 167.9 L402.0 168.7 L402.1 169.5 L402.2 170.4 L402.3 171.2 L402.4 172.1 L402.5 172.9 L402.6 173.8 L402.7 174.6 L402.7 175.5 L402.8 176.3 L402.9 177.2 L402.9 178.1 L403.0 179.0 L403.1 179.9 L403.1 180.8 L403.2 181.7 L403.2 182.6 L403.3 183.5 L403.3 184.5 L403.4 185.4 L403.4 186.3 L403.5 187.3 L403.5 188.3 L403.5 189.2 L403.6 190.2 L403.6 191.2 L403.6 192.2 L403.7 193.2 L403.7 194.2 L403.7 195.3 L403.7 196.3 L403.8 197.4 L403.8 198.4 L403.8 199.5 L403.8 200.6 L403.8 201.8 L403.8 202.9 L403.8 204.1 L403.9 205.2 L403.9 206.4 L403.9 207.7 L403.9 208.9 L403.9 210.2 L403.9 211.5 L403.9 212.8 L403.9 214.2 L403.9 215.7 L403.9 217.1 L403.9 218.7 L403.9 220.3 L403.9 222.0 L403.9 223.9 L403.9 226.0 L403.9 227.4 L403.9 227.4 L403.9 228.6" fill="none" stroke="#5D9EC7" stroke-width="1.6" stroke-linejoin="round"/>
<path d="M83.0 60.7 L86.2 60.7 L89.4 60.7 L92.6 60.7 L95.7 60.7 L98.8 60.7 L101.9 60.7 L105.0 60.7 L108.1 60.8 L111.1 60.8 L114.1 60.8 L117.1 60.8 L120.1 60.9 L123.1 60.9 L126.0 60.9 L128.9 61.0 L131.8 61.0 L134.7 61.1 L137.5 61.1 L140.4 61.2 L143.2 61.3 L146.0 61.3 L148.8 61.4 L151.5 61.5 L154.2 61.5 L157.0 61.6 L159.6 61.7 L162.3 61.8 L165.0 61.9 L167.6 62.0 L170.2 62.1 L172.8 62.2 L175.4 62.3 L178.0 62.4 L180.5 62.6 L183.0 62.7 L185.5 62.8 L188.0 63.0 L190.5 63.1 L192.9 63.2 L195.3 63.4 L197.7 63.5 L200.1 63.7 L202.5 63.9 L204.8 64.0 L207.2 64.2 L209.5 64.4 L211.8 64.5 L214.1 64.7 L216.3 64.9 L218.6 65.1 L220.8 65.3 L223.0 65.5 L225.2 65.7 L227.4 65.9 L229.5 66.1 L231.6 66.3 L233.8 66.5 L235.9 66.8 L237.9 67.0 L240.0 67.2 L242.1 67.5 L244.1 67.7 L246.1 67.9 L248.1 68.2 L250.1 68.4 L252.0 68.7 L254.0 69.0 L255.9 69.2 L257.8 69.5 L259.7 69.8 L261.6 70.0 L263.5 70.3 L265.3 70.6 L267.2 70.9 L269.0 71.2 L270.8 71.5 L272.6 71.8 L274.3 72.1 L276.1 72.4 L277.8 72.7 L279.5 73.0 L281.2 73.3 L282.9 73.6 L284.6 74.0 L286.2 74.3 L287.9 74.6 L289.5 75.0 L291.1 75.3 L292.7 75.6 L294.3 76.0 L295.9 76.3 L297.4 76.7 L299.0 77.0 L300.5 77.4 L302.0 77.8 L303.5 78.1 L305.0 78.5 L306.4 78.9 L307.9 79.3 L309.3 79.6 L310.7 80.0 L312.1 80.4 L313.5 80.8 L314.9 81.2 L316.2 81.6 L317.6 82.0 L318.9 82.4 L320.3 82.8 L321.6 83.2 L322.9 83.6 L324.1 84.0 L325.4 84.5 L326.7 84.9 L327.9 85.3 L329.1 85.7 L330.3 86.2 L331.5 86.6 L332.7 87.1 L333.9 87.5 L335.0 87.9 L336.2 88.4 L337.3 88.8 L338.5 89.3 L339.6 89.8 L340.7 90.2 L341.7 90.7 L342.8 91.2 L343.9 91.6 L344.9 92.1 L346.0 92.6 L347.0 93.1 L348.0 93.5 L349.0 94.0 L350.0 94.5 L350.9 95.0 L351.9 95.5 L352.9 96.0 L353.8 96.5 L354.7 97.0 L355.6 97.5 L356.5 98.0 L357.4 98.5 L358.3 99.1 L359.2 99.6 L360.1 100.1 L360.9 100.6 L361.7 101.1 L362.6 101.7 L363.4 102.2 L364.2 102.7 L365.0 103.3 L365.8 103.8 L366.5 104.4 L367.3 104.9 L368.1 105.5 L368.8 106.0 L369.5 106.6 L370.2 107.1 L371.0 107.7 L371.7 108.3 L372.4 108.8 L373.0 109.4 L373.7 110.0 L374.4 110.6 L375.0 111.1 L375.7 111.7 L376.3 112.3 L376.9 112.9 L377.5 113.5 L378.1 114.1 L378.7 114.7 L379.3 115.3 L379.9 115.9 L380.5 116.5 L381.0 117.1 L381.6 117.7 L382.1 118.3 L382.6 118.9 L383.2 119.5 L383.7 120.1 L384.2 120.8 L384.7 121.4 L385.2 122.0 L385.6 122.6 L386.1 123.3 L386.6 123.9 L387.0 124.5 L387.5 125.2 L387.9 125.8 L388.4 126.5 L388.8 127.1 L389.2 127.8 L389.6 128.4 L390.0 129.1 L390.4 129.8 L390.8 130.4 L391.2 131.1 L391.5 131.8 L391.9 132.4 L392.3 133.1 L392.6 133.8 L392.9 134.5 L393.3 135.2 L393.6 135.9 L393.9 136.5 L394.2 137.2 L394.6 137.9 L394.9 138.6 L395.1 139.3 L395.4 140.0 L395.7 140.8 L396.0 141.5 L396.3 142.2 L396.5 142.9 L396.8 143.6 L397.0 144.4 L397.3 145.1 L397.5 145.8 L397.8 146.5 L398.0 147.3 L398.2 148.0 L398.4 148.8 L398.6 149.5 L398.8 150.3 L399.0 151.0 L399.2 151.8 L399.4 152.6 L399.6 153.3 L399.8 154.1 L400.0 154.9 L400.1 155.7 L400.3 156.4 L400.4 157.2 L400.6 158.0 L400.8 158.8 L400.9 159.6 L401.0 160.4 L401.2 161.2 L401.3 162.0 L401.4 162.8 L401.6 163.7 L401.7 164.5 L401.8 165.3 L401.9 166.2 L402.0 167.0 L402.1 167.8 L402.2 168.7 L402.3 169.5 L402.4 170.4 L402.5 171.3 L402.6 172.1 L402.7 173.0 L402.7 173.9 L402.8 174.8 L402.9 175.7 L402.9 176.6 L403.0 177.5 L403.1 178.4 L403.1 179.3 L403.2 180.3 L403.2 181.2 L403.3 182.1 L403.3 183.1 L403.4 184.0 L403.4 185.0 L403.5 186.0 L403.5 187.0 L403.5 188.0 L403.6 189.0 L403.6 190.0 L403.6 191.0 L403.7 192.0 L403.7 193.1 L403.7 194.2 L403.7 195.2 L403.8 196.3 L403.8 197.4 L403.8 198.5 L403.8 199.7 L403.8 200.8 L403.8 202.0 L403.8 203.2 L403.9 204.4 L403.9 205.6 L403.9 206.9 L403.9 208.1 L403.9 209.5 L403.9 210.8 L403.9 212.2 L403.9 213.6 L403.9 215.1 L403.9 216.6 L403.9 218.2 L403.9 219.9 L403.9 221.7 L403.9 223.6 L403.9 225.7 L403.9 227.2 L403.9 227.2 L403.9 228.6" fill="none" stroke="#FFBF00" stroke-width="1.6" stroke-linejoin="round"/>
<path d="M83.0 55.4 L86.2 55.4 L89.4 55.4 L92.6 55.4 L95.7 55.4 L98.8 55.4 L101.9 55.4 L105.0 55.5 L108.1 55.5 L111.1 55.5 L114.1 55.5 L117.1 55.6 L120.1 55.6 L123.1 55.6 L126.0 55.7 L128.9 55.7 L131.8 55.8 L134.7 55.8 L137.5 55.9 L140.4 55.9 L143.2 56.0 L146.0 56.1 L148.8 56.2 L151.5 56.3 L154.2 56.3 L157.0 56.4 L159.6 56.5 L162.3 56.6 L165.0 56.7 L167.6 56.8 L170.2 56.9 L172.8 57.1 L175.4 57.2 L178.0 57.3 L180.5 57.4 L183.0 57.6 L185.5 57.7 L188.0 57.9 L190.5 58.0 L192.9 58.2 L195.3 58.3 L197.7 58.5 L200.1 58.7 L202.5 58.8 L204.8 59.0 L207.2 59.2 L209.5 59.4 L211.8 59.6 L214.1 59.7 L216.3 59.9 L218.6 60.1 L220.8 60.4 L223.0 60.6 L225.2 60.8 L227.4 61.0 L229.5 61.2 L231.6 61.4 L233.8 61.7 L235.9 61.9 L237.9 62.2 L240.0 62.4 L242.1 62.6 L244.1 62.9 L246.1 63.2 L248.1 63.4 L250.1 63.7 L252.0 63.9 L254.0 64.2 L255.9 64.5 L257.8 64.8 L259.7 65.1 L261.6 65.4 L263.5 65.6 L265.3 65.9 L267.2 66.2 L269.0 66.5 L270.8 66.9 L272.6 67.2 L274.3 67.5 L276.1 67.8 L277.8 68.1 L279.5 68.5 L281.2 68.8 L282.9 69.1 L284.6 69.5 L286.2 69.8 L287.9 70.1 L289.5 70.5 L291.1 70.9 L292.7 71.2 L294.3 71.6 L295.9 71.9 L297.4 72.3 L299.0 72.7 L300.5 73.1 L302.0 73.4 L303.5 73.8 L305.0 74.2 L306.4 74.6 L307.9 75.0 L309.3 75.4 L310.7 75.8 L312.1 76.2 L313.5 76.6 L314.9 77.0 L316.2 77.4 L317.6 77.8 L318.9 78.3 L320.3 78.7 L321.6 79.1 L322.9 79.5 L324.1 80.0 L325.4 80.4 L326.7 80.8 L327.9 81.3 L329.1 81.7 L330.3 82.2 L331.5 82.6 L332.7 83.1 L333.9 83.6 L335.0 84.0 L336.2 84.5 L337.3 85.0 L338.5 85.4 L339.6 85.9 L340.7 86.4 L341.7 86.9 L342.8 87.4 L343.9 87.8 L344.9 88.3 L346.0 88.8 L347.0 89.3 L348.0 89.8 L349.0 90.3 L350.0 90.8 L350.9 91.3 L351.9 91.9 L352.9 92.4 L353.8 92.9 L354.7 93.4 L355.6 93.9 L356.5 94.5 L357.4 95.0 L358.3 95.5 L359.2 96.1 L360.1 96.6 L360.9 97.2 L361.7 97.7 L362.6 98.3 L363.4 98.8 L364.2 99.4 L365.0 99.9 L365.8 100.5 L366.5 101.0 L367.3 101.6 L368.1 102.2 L368.8 102.7 L369.5 103.3 L370.2 103.9 L371.0 104.5 L371.7 105.1 L372.4 105.6 L373.0 106.2 L373.7 106.8 L374.4 107.4 L375.0 108.0 L375.7 108.6 L376.3 109.2 L376.9 109.8 L377.5 110.4 L378.1 111.0 L378.7 111.7 L379.3 112.3 L379.9 112.9 L380.5 113.5 L381.0 114.1 L381.6 114.8 L382.1 115.4 L382.6 116.0 L383.2 116.7 L383.7 117.3 L384.2 118.0 L384.7 118.6 L385.2 119.3 L385.6 119.9 L386.1 120.6 L386.6 121.2 L387.0 121.9 L387.5 122.5 L387.9 123.2 L388.4 123.9 L388.8 124.5 L389.2 125.2 L389.6 125.9 L390.0 126.6 L390.4 127.2 L390.8 127.9 L391.2 128.6 L391.5 129.3 L391.9 130.0 L392.3 130.7 L392.6 131.4 L392.9 132.1 L393.3 132.8 L393.6 133.5 L393.9 134.2 L394.2 135.0 L394.6 135.7 L394.9 136.4 L395.1 137.1 L395.4 137.8 L395.7 138.6 L396.0 139.3 L396.3 140.0 L396.5 140.8 L396.8 141.5 L397.0 142.3 L397.3 143.0 L397.5 143.8 L397.8 144.5 L398.0 145.3 L398.2 146.1 L398.4 146.8 L398.6 147.6 L398.8 148.4 L399.0 149.2 L399.2 149.9 L399.4 150.7 L399.6 151.5 L399.8 152.3 L400.0 153.1 L400.1 153.9 L400.3 154.7 L400.4 155.5 L400.6 156.3 L400.8 157.1 L400.9 158.0 L401.0 158.8 L401.2 159.6 L401.3 160.5 L401.4 161.3 L401.6 162.1 L401.7 163.0 L401.8 163.8 L401.9 164.7 L402.0 165.6 L402.1 166.4 L402.2 167.3 L402.3 168.2 L402.4 169.1 L402.5 170.0 L402.6 170.9 L402.7 171.8 L402.7 172.7 L402.8 173.6 L402.9 174.5 L402.9 175.4 L403.0 176.3 L403.1 177.3 L403.1 178.2 L403.2 179.2 L403.2 180.1 L403.3 181.1 L403.3 182.1 L403.4 183.1 L403.4 184.1 L403.5 185.1 L403.5 186.1 L403.5 187.1 L403.6 188.1 L403.6 189.2 L403.6 190.2 L403.7 191.3 L403.7 192.4 L403.7 193.4 L403.7 194.5 L403.8 195.7 L403.8 196.8 L403.8 197.9 L403.8 199.1 L403.8 200.3 L403.8 201.4 L403.8 202.7 L403.9 203.9 L403.9 205.2 L403.9 206.4 L403.9 207.8 L403.9 209.1 L403.9 210.5 L403.9 211.9 L403.9 213.3 L403.9 214.8 L403.9 216.4 L403.9 218.0 L403.9 219.7 L403.9 221.6 L403.9 223.5 L403.9 225.7 L403.9 227.1 L403.9 227.1 L403.9 228.6" fill="none" stroke="#929600" stroke-width="1.6" stroke-linejoin="round"/>
<path d="M83.0 50.1 L86.2 50.1 L89.4 50.1 L92.6 50.1 L95.7 50.1 L98.8 50.1 L101.9 50.1 L105.0 50.2 L108.1 50.2 L111.1 50.2 L114.1 50.2 L117.1 50.3 L120.1 50.3 L123.1 50.4 L126.0 50.4 L128.9 50.5 L131.8 50.5 L134.7 50.6 L137.5 50.7 L140.4 50.7 L143.2 50.8 L146.0 50.9 L148.8 51.0 L151.5 51.1 L154.2 51.2 L157.0 51.3 L159.6 51.4 L162.3 51.5 L165.0 51.6 L167.6 51.7 L170.2 51.8 L172.8 51.9 L175.4 52.1 L178.0 52.2 L180.5 52.3 L183.0 52.5 L185.5 52.6 L188.0 52.8 L190.5 53.0 L192.9 53.1 L195.3 53.3 L197.7 53.5 L200.1 53.6 L202.5 53.8 L204.8 54.0 L207.2 54.2 L209.5 54.4 L211.8 54.6 L214.1 54.8 L216.3 55.0 L218.6 55.2 L220.8 55.4 L223.0 55.6 L225.2 55.9 L227.4 56.1 L229.5 56.3 L231.6 56.6 L233.8 56.8 L235.9 57.1 L237.9 57.3 L240.0 57.6 L242.1 57.8 L244.1 58.1 L246.1 58.3 L248.1 58.6 L250.1 58.9 L252.0 59.2 L254.0 59.5 L255.9 59.7 L257.8 60.0 L259.7 60.3 L261.6 60.6 L263.5 60.9 L265.3 61.3 L267.2 61.6 L269.0 61.9 L270.8 62.2 L272.6 62.5 L274.3 62.9 L276.1 63.2 L277.8 63.5 L279.5 63.9 L281.2 64.2 L282.9 64.6 L284.6 64.9 L286.2 65.3 L287.9 65.6 L289.5 66.0 L291.1 66.4 L292.7 66.7 L294.3 67.1 L295.9 67.5 L297.4 67.9 L299.0 68.2 L300.5 68.6 L302.0 69.0 L303.5 69.4 L305.0 69.8 L306.4 70.2 L307.9 70.6 L309.3 71.0 L310.7 71.5 L312.1 71.9 L313.5 72.3 L314.9 72.7 L316.2 73.2 L317.6 73.6 L318.9 74.0 L320.3 74.5 L321.6 74.9 L322.9 75.4 L324.1 75.8 L325.4 76.3 L326.7 76.7 L327.9 77.2 L329.1 77.6 L330.3 78.1 L331.5 78.6 L332.7 79.1 L333.9 79.5 L335.0 80.0 L336.2 80.5 L337.3 81.0 L338.5 81.5 L339.6 82.0 L340.7 82.5 L341.7 83.0 L342.8 83.5 L343.9 84.0 L344.9 84.5 L346.0 85.0 L347.0 85.5 L348.0 86.0 L349.0 86.6 L350.0 87.1 L350.9 87.6 L351.9 88.2 L352.9 88.7 L353.8 89.2 L354.7 89.8 L355.6 90.3 L356.5 90.9 L357.4 91.4 L358.3 92.0 L359.2 92.5 L360.1 93.1 L360.9 93.6 L361.7 94.2 L362.6 94.8 L363.4 95.4 L364.2 95.9 L365.0 96.5 L365.8 97.1 L366.5 97.7 L367.3 98.3 L368.1 98.9 L368.8 99.5 L369.5 100.0 L370.2 100.6 L371.0 101.2 L371.7 101.9 L372.4 102.5 L373.0 103.1 L373.7 103.7 L374.4 104.3 L375.0 104.9 L375.7 105.6 L376.3 106.2 L376.9 106.8 L377.5 107.4 L378.1 108.1 L378.7 108.7 L379.3 109.4 L379.9 110.0 L380.5 110.6 L381.0 111.3 L381.6 111.9 L382.1 112.6 L382.6 113.3 L383.2 113.9 L383.7 114.6 L384.2 115.3 L384.7 115.9 L385.2 116.6 L385.6 117.3 L386.1 117.9 L386.6 118.6 L387.0 119.3 L387.5 120.0 L387.9 120.7 L388.4 121.4 L388.8 122.1 L389.2 122.8 L389.6 123.5 L390.0 124.2 L390.4 124.9 L390.8 125.6 L391.2 126.3 L391.5 127.0 L391.9 127.8 L392.3 128.5 L392.6 129.2 L392.9 129.9 L393.3 130.7 L393.6 131.4 L393.9 132.1 L394.2 132.9 L394.6 133.6 L394.9 134.4 L395.1 135.1 L395.4 135.9 L395.7 136.6 L396.0 137.4 L396.3 138.2 L396.5 138.9 L396.8 139.7 L397.0 140.5 L397.3 141.3 L397.5 142.0 L397.8 142.8 L398.0 143.6 L398.2 144.4 L398.4 145.2 L398.6 146.0 L398.8 146.8 L399.0 147.6 L399.2 148.4 L399.4 149.2 L399.6 150.0 L399.8 150.9 L400.0 151.7 L400.1 152.5 L400.3 153.3 L400.4 154.2 L400.6 155.0 L400.8 155.9 L400.9 156.7 L401.0 157.6 L401.2 158.4 L401.3 159.3 L401.4 160.2 L401.6 161.0 L401.7 161.9 L401.8 162.8 L401.9 163.7 L402.0 164.6 L402.1 165.5 L402.2 166.4 L402.3 167.3 L402.4 168.2 L402.5 169.1 L402.6 170.0 L402.7 170.9 L402.7 171.9 L402.8 172.8 L402.9 173.8 L402.9 174.7 L403.0 175.7 L403.1 176.6 L403.1 177.6 L403.2 178.6 L403.2 179.6 L403.3 180.6 L403.3 181.6 L403.4 182.6 L403.4 183.6 L403.5 184.6 L403.5 185.7 L403.5 186.7 L403.6 187.8 L403.6 188.8 L403.6 189.9 L403.7 191.0 L403.7 192.1 L403.7 193.2 L403.7 194.3 L403.8 195.5 L403.8 196.6 L403.8 197.8 L403.8 199.0 L403.8 200.2 L403.8 201.4 L403.8 202.6 L403.9 203.9 L403.9 205.2 L403.9 206.5 L403.9 207.8 L403.9 209.2 L403.9 210.5 L403.9 212.0 L403.9 213.4 L403.9 215.0 L403.9 216.5 L403.9 218.2 L403.9 219.9 L403.9 221.7 L403.9 223.7 L403.9 225.8 L403.9 227.3 L403.9 227.3 L403.9 228.6" fill="none" stroke="#A5609D" stroke-width="1.6" stroke-linejoin="round"/>
<path d="M83.4 40.1 L86.6 40.1 L89.8 40.1 L93.0 40.1 L96.1 40.1 L99.2 40.2 L102.3 40.2 L105.4 40.2 L108.4 40.2 L111.5 40.3 L114.5 40.3 L117.5 40.4 L120.5 40.4 L123.4 40.5 L126.3 40.6 L129.3 40.6 L132.1 40.7 L135.0 40.8 L137.9 40.9 L140.7 40.9 L143.5 41.0 L146.3 41.1 L149.1 41.2 L151.8 41.3 L154.5 41.5 L157.3 41.6 L159.9 41.7 L162.6 41.8 L165.3 41.9 L167.9 42.1 L170.5 42.2 L173.1 42.4 L175.7 42.5 L178.2 42.7 L180.8 42.8 L183.3 43.0 L185.8 43.1 L188.3 43.3 L190.7 43.5 L193.2 43.7 L195.6 43.8 L198.0 44.0 L200.4 44.2 L202.7 44.4 L205.1 44.6 L207.4 44.8 L209.7 45.0 L212.0 45.2 L214.3 45.5 L216.6 45.7 L218.8 45.9 L221.0 46.1 L223.2 46.4 L225.4 46.6 L227.6 46.8 L229.7 47.1 L231.9 47.3 L234.0 47.6 L236.1 47.9 L238.2 48.1 L240.2 48.4 L242.3 48.7 L244.3 48.9 L246.3 49.2 L248.3 49.5 L250.3 49.8 L252.2 50.1 L254.2 50.4 L256.1 50.7 L258.0 51.0 L259.9 51.3 L261.8 51.6 L263.7 52.0 L265.5 52.3 L267.3 52.6 L269.1 52.9 L270.9 53.3 L272.7 53.6 L274.5 54.0 L276.2 54.3 L278.0 54.7 L279.7 55.0 L281.4 55.4 L283.1 55.8 L284.7 56.1 L286.4 56.5 L288.0 56.9 L289.7 57.3 L291.3 57.6 L292.9 58.0 L294.4 58.4 L296.0 58.8 L297.6 59.2 L299.1 59.6 L300.6 60.1 L302.1 60.5 L303.6 60.9 L305.1 61.3 L306.5 61.7 L308.0 62.2 L309.4 62.6 L310.8 63.1 L312.2 63.5 L313.6 63.9 L315.0 64.4 L316.4 64.9 L317.7 65.3 L319.0 65.8 L320.4 66.2 L321.7 66.7 L323.0 67.2 L324.2 67.7 L325.5 68.2 L326.7 68.6 L328.0 69.1 L329.2 69.6 L330.4 70.1 L331.6 70.6 L332.8 71.1 L334.0 71.6 L335.1 72.2 L336.3 72.7 L337.4 73.2 L338.5 73.7 L339.6 74.3 L340.7 74.8 L341.8 75.3 L342.9 75.9 L343.9 76.4 L345.0 77.0 L346.0 77.5 L347.0 78.1 L348.1 78.6 L349.1 79.2 L350.0 79.8 L351.0 80.3 L352.0 80.9 L352.9 81.5 L353.9 82.1 L354.8 82.7 L355.7 83.2 L356.6 83.8 L357.5 84.4 L358.4 85.0 L359.3 85.6 L360.1 86.2 L361.0 86.9 L361.8 87.5 L362.6 88.1 L363.4 88.7 L364.2 89.3 L365.0 90.0 L365.8 90.6 L366.6 91.2 L367.3 91.9 L368.1 92.5 L368.8 93.2 L369.6 93.8 L370.3 94.5 L371.0 95.1 L371.7 95.8 L372.4 96.4 L373.1 97.1 L373.7 97.8 L374.4 98.4 L375.1 99.1 L375.7 99.8 L376.3 100.5 L376.9 101.2 L377.6 101.8 L378.2 102.5 L378.8 103.2 L379.3 103.9 L379.9 104.6 L380.5 105.3 L381.0 106.0 L381.6 106.8 L382.1 107.5 L382.7 108.2 L383.2 108.9 L383.7 109.6 L384.2 110.4 L384.7 111.1 L385.2 111.8 L385.7 112.6 L386.1 113.3 L386.6 114.0 L387.1 114.8 L387.5 115.5 L387.9 116.3 L388.4 117.1 L388.8 117.8 L389.2 118.6 L389.6 119.3 L390.0 120.1 L390.4 120.9 L390.8 121.7 L391.2 122.4 L391.5 123.2 L391.9 124.0 L392.3 124.8 L392.6 125.6 L393.0 126.4 L393.3 127.2 L393.6 128.0 L393.9 128.8 L394.3 129.6 L394.6 130.4 L394.9 131.2 L395.2 132.0 L395.4 132.9 L395.7 133.7 L396.0 134.5 L396.3 135.3 L396.5 136.2 L396.8 137.0 L397.0 137.9 L397.3 138.7 L397.5 139.6 L397.8 140.4 L398.0 141.3 L398.2 142.1 L398.4 143.0 L398.6 143.8 L398.8 144.7 L399.0 145.6 L399.2 146.5 L399.4 147.3 L399.6 148.2 L399.8 149.1 L400.0 150.0 L400.1 150.9 L400.3 151.8 L400.5 152.7 L400.6 153.6 L400.8 154.5 L400.9 155.4 L401.0 156.3 L401.2 157.3 L401.3 158.2 L401.4 159.1 L401.6 160.1 L401.7 161.0 L401.8 162.0 L401.9 162.9 L402.0 163.9 L402.1 164.8 L402.2 165.8 L402.3 166.7 L402.4 167.7 L402.5 168.7 L402.6 169.7 L402.7 170.7 L402.7 171.7 L402.8 172.7 L402.9 173.7 L402.9 174.7 L403.0 175.7 L403.1 176.7 L403.1 177.7 L403.2 178.8 L403.2 179.8 L403.3 180.9 L403.3 181.9 L403.4 183.0 L403.4 184.1 L403.5 185.1 L403.5 186.2 L403.5 187.3 L403.6 188.4 L403.6 189.5 L403.6 190.7 L403.7 191.8 L403.7 192.9 L403.7 194.1 L403.7 195.3 L403.8 196.4 L403.8 197.6 L403.8 198.8 L403.8 200.0 L403.8 201.3 L403.8 202.5 L403.8 203.8 L403.9 205.1 L403.9 206.4 L403.9 207.7 L403.9 209.0 L403.9 210.4 L403.9 211.8 L403.9 213.2 L403.9 214.7 L403.9 216.2 L403.9 217.7 L403.9 219.3 L403.9 221.0 L403.9 222.7 L403.9 224.6 L403.9 226.6 L403.9 228.0 L403.9 228.0 L403.9 228.6" fill="none" stroke="#E95536" stroke-width="1.6" stroke-linejoin="round"/>
</g>
<g class="t">
<text x="56.70 63.20 66.45" y="236.70" style="font-size:13px">0.0</text>
<text x="56.70 63.20 66.45" y="204.07" style="font-size:13px">0.2</text>
<text x="56.70 63.20 66.45" y="171.43" style="font-size:13px">0.4</text>
<text x="56.70 63.20 66.45" y="138.80" style="font-size:13px">0.6</text>
<text x="56.70 63.20 66.45" y="106.17" style="font-size:13px">0.8</text>
<text x="56.70 63.20 66.45" y="73.53" style="font-size:13px">1.0</text>
<text x="56.70 63.20 66.45" y="40.90" style="font-size:13px">1.2</text>
<text x="74.28 80.78 84.03" y="250.50" style="font-size:13px">0.0</text>
<text x="138.48 144.98 148.23" y="250.50" style="font-size:13px">0.2</text>
<text x="202.68 209.18 212.43" y="250.50" style="font-size:13px">0.4</text>
<text x="266.88 273.38 276.62" y="250.50" style="font-size:13px">0.6</text>
<text x="331.08 337.58 340.83" y="250.50" style="font-size:13px">0.8</text>
<text x="395.27 401.77 405.02" y="250.50" style="font-size:13px">1.0</text>
</g>
<g class="t">
<line x1="83.90" y1="110.20" x2="102.40" y2="110.20" stroke="#E95536" stroke-width="1.6"/>
<line x1="115.61" y1="108.50" x2="122.50" y2="108.50" stroke="#000" stroke-width="0.78"/><line x1="115.61" y1="111.29" x2="122.50" y2="111.29" stroke="#000" stroke-width="0.78"/><line x1="124.12" y1="109.80" x2="130.88" y2="109.80" stroke="#000" stroke-width="0.78"/><line x1="138.66" y1="115.71" x2="142.56" y2="104.53" stroke="#000" stroke-width="0.78"/><text x="108.40 114.70 123.21 131.71 138.21 142.50 149.00" y="113.50" style="font-size:13px">λ<tspan class="h">=</tspan><tspan class="h">−</tspan>7<tspan class="h">/</tspan>36</text>
<line x1="83.90" y1="132.55" x2="102.40" y2="132.55" stroke="#929600" stroke-width="1.6"/>
<line x1="115.61" y1="130.85" x2="122.50" y2="130.85" stroke="#000" stroke-width="0.78"/><line x1="115.61" y1="133.64" x2="122.50" y2="133.64" stroke="#000" stroke-width="0.78"/><line x1="124.12" y1="132.15" x2="130.88" y2="132.15" stroke="#000" stroke-width="0.78"/><line x1="145.16" y1="138.06" x2="149.06" y2="126.88" stroke="#000" stroke-width="0.78"/><text x="108.40 114.70 123.21 131.71 138.21 144.71 149.00 155.50" y="135.85" style="font-size:13px">λ<tspan class="h">=</tspan><tspan class="h">−</tspan>10<tspan class="h">/</tspan>81</text>
<line x1="83.90" y1="154.90" x2="102.40" y2="154.90" stroke="#A5609D" stroke-width="1.6"/>
<line x1="115.61" y1="153.20" x2="122.50" y2="153.20" stroke="#000" stroke-width="0.78"/><line x1="115.61" y1="155.99" x2="122.50" y2="155.99" stroke="#000" stroke-width="0.78"/><line x1="124.12" y1="154.50" x2="130.88" y2="154.50" stroke="#000" stroke-width="0.78"/><line x1="151.66" y1="160.41" x2="155.56" y2="149.23" stroke="#000" stroke-width="0.78"/><text x="108.40 114.70 123.21 131.71 138.21 144.71 151.21 155.50 162.00 168.50 175.00" y="158.20" style="font-size:13px">λ<tspan class="h">=</tspan><tspan class="h">−</tspan>120<tspan class="h">/</tspan>1369</text>
<line x1="83.90" y1="177.25" x2="102.40" y2="177.25" stroke="#FFBF00" stroke-width="1.6"/>
<line x1="115.61" y1="175.55" x2="122.50" y2="175.55" stroke="#000" stroke-width="0.78"/><line x1="115.61" y1="178.34" x2="122.50" y2="178.34" stroke="#000" stroke-width="0.78"/><line x1="124.12" y1="176.84" x2="130.88" y2="176.84" stroke="#000" stroke-width="0.78"/><line x1="145.16" y1="182.76" x2="149.06" y2="171.58" stroke="#000" stroke-width="0.78"/><text x="108.40 114.70 123.21 131.71 138.21 144.71 149.00 155.50 162.00" y="180.55" style="font-size:13px">λ<tspan class="h">=</tspan><tspan class="h">−</tspan>20<tspan class="h">/</tspan>361</text>
<line x1="83.90" y1="199.60" x2="102.40" y2="199.60" stroke="#5D9EC7" stroke-width="1.6"/>
<line x1="115.61" y1="197.90" x2="122.50" y2="197.90" stroke="#000" stroke-width="0.78"/><line x1="115.61" y1="200.69" x2="122.50" y2="200.69" stroke="#000" stroke-width="0.78"/><line x1="124.12" y1="199.20" x2="130.88" y2="199.20" stroke="#000" stroke-width="0.78"/><line x1="145.16" y1="205.11" x2="149.06" y2="193.93" stroke="#000" stroke-width="0.78"/><text x="108.40 114.70 123.21 131.71 138.21 144.71 149.00 155.50 162.00 168.50" y="202.90" style="font-size:13px">λ<tspan class="h">=</tspan><tspan class="h">−</tspan>40<tspan class="h">/</tspan>1521</text>
<line x1="83.90" y1="221.95" x2="102.40" y2="221.95" stroke="#000000" stroke-width="1.6"/>
<line x1="115.61" y1="220.25" x2="122.50" y2="220.25" stroke="#000" stroke-width="0.78"/><line x1="115.61" y1="223.04" x2="122.50" y2="223.04" stroke="#000" stroke-width="0.78"/><text x="108.40 114.70 123.21" y="225.25" style="font-size:13px">λ<tspan class="h">=</tspan>0</text>
<line x1="195.50" y1="110.20" x2="214.00" y2="110.20" stroke="#8778B3" stroke-width="1.6"/>
<line x1="227.11" y1="108.50" x2="234.00" y2="108.50" stroke="#000" stroke-width="0.78"/><line x1="227.11" y1="111.29" x2="234.00" y2="111.29" stroke="#000" stroke-width="0.78"/><line x1="248.16" y1="115.71" x2="252.06" y2="104.53" stroke="#000" stroke-width="0.78"/><text x="219.90 226.20 234.71 241.21 247.71 252.00 258.50 265.00 271.50" y="113.50" style="font-size:13px">λ<tspan class="h">=</tspan>40<tspan class="h">/</tspan>1681</text>
<line x1="195.50" y1="132.55" x2="214.00" y2="132.55" stroke="#EB6235" stroke-width="1.6"/>
<line x1="227.11" y1="130.85" x2="234.00" y2="130.85" stroke="#000" stroke-width="0.78"/><line x1="227.11" y1="133.64" x2="234.00" y2="133.64" stroke="#000" stroke-width="0.78"/><line x1="248.16" y1="138.06" x2="252.06" y2="126.88" stroke="#000" stroke-width="0.78"/><text x="219.90 226.20 234.71 241.21 247.71 252.00 258.50 265.00" y="135.85" style="font-size:13px">λ<tspan class="h">=</tspan>20<tspan class="h">/</tspan>441</text>
<line x1="195.50" y1="154.90" x2="214.00" y2="154.90" stroke="#8FB032" stroke-width="1.6"/>
<line x1="227.11" y1="153.20" x2="234.00" y2="153.20" stroke="#000" stroke-width="0.78"/><line x1="227.11" y1="155.99" x2="234.00" y2="155.99" stroke="#000" stroke-width="0.78"/><line x1="254.66" y1="160.41" x2="258.56" y2="149.23" stroke="#000" stroke-width="0.78"/><text x="219.90 226.20 234.71 241.21 247.71 254.21 258.50 265.00 271.50 278.00" y="158.20" style="font-size:13px">λ<tspan class="h">=</tspan>120<tspan class="h">/</tspan>1849</text>
<line x1="195.50" y1="177.25" x2="214.00" y2="177.25" stroke="#E19C24" stroke-width="1.6"/>
<line x1="227.11" y1="175.55" x2="234.00" y2="175.55" stroke="#000" stroke-width="0.78"/><line x1="227.11" y1="178.34" x2="234.00" y2="178.34" stroke="#000" stroke-width="0.78"/><line x1="248.16" y1="182.76" x2="252.06" y2="171.58" stroke="#000" stroke-width="0.78"/><text x="219.90 226.20 234.71 241.21 247.71 252.00 258.50 265.00" y="180.55" style="font-size:13px">λ<tspan class="h">=</tspan>10<tspan class="h">/</tspan>121</text>
<line x1="195.50" y1="199.60" x2="214.00" y2="199.60" stroke="#5E81B5" stroke-width="1.6"/>
<line x1="227.11" y1="197.90" x2="234.00" y2="197.90" stroke="#000" stroke-width="0.78"/><line x1="227.11" y1="200.69" x2="234.00" y2="200.69" stroke="#000" stroke-width="0.78"/><line x1="241.66" y1="205.11" x2="245.56" y2="193.93" stroke="#000" stroke-width="0.78"/><text x="219.90 226.20 234.71 241.21 245.50 252.00 258.50" y="202.90" style="font-size:13px">λ<tspan class="h">=</tspan>9<tspan class="h">/</tspan>100</text>
</g>
<g class="t">
<polyline points="25.6,131.2 22.4,136.7 25.6,142.2" fill="none" stroke="#000" stroke-width="1"/>
<polyline points="35.9,131.2 39.1,136.7 35.9,142.2" fill="none" stroke="#000" stroke-width="1"/>
<text x="25.9" y="140.5" style="font-size:13px">O</text>
<text x="43.3" y="129.0" style="font-size:8px;stroke-width:0.15px">1</text>
<line x1="41.90" y1="131.45" x2="50.00" y2="131.45" stroke="#000" stroke-width="0.7"/>
<text x="41.5" y="137.8" style="font-size:6.4px;stroke-width:0.2px">Δ</text>
<text x="46.0" y="139.4" style="font-size:4.6px;stroke-width:0.12px">+</text>
</g>
<g class="t">
<text x="238.75" y="272.9" style="font-size:13px;font-style:italic">T</text>
<path d="M241.20 262.48 Q242.39 260.23 243.40 261.80 T245.60 261.12" fill="none" stroke="#000" stroke-width="0.85" stroke-linecap="round"/>
<line x1="236.90" y1="278.90" x2="249.80" y2="278.90" stroke="#222" stroke-width="0.9"/>
<text x="236.75" y="294.8" style="font-size:13px;font-style:italic">T</text>
<path d="M238.90 284.57 Q240.09 282.32 241.10 283.90 T243.30 283.22" fill="none" stroke="#000" stroke-width="0.85" stroke-linecap="round"/>
<text x="245.2" y="296.3" style="font-size:9.2px;font-style:italic">c</text>
</g>
<g id="rightframe">
<rect x="484.60" y="30.00" width="334.20" height="206.30" fill="none" stroke="#666" stroke-width="0.6"/>
<line x1="484.70" y1="236.30" x2="484.70" y2="232.90" stroke="#666" stroke-width="0.6"/>
<line x1="484.70" y1="30.00" x2="484.70" y2="33.40" stroke="#666" stroke-width="0.6"/>
<line x1="495.99" y1="236.30" x2="495.99" y2="234.20" stroke="#666" stroke-width="0.6"/>
<line x1="495.99" y1="30.00" x2="495.99" y2="32.10" stroke="#666" stroke-width="0.6"/>
<line x1="507.28" y1="236.30" x2="507.28" y2="234.20" stroke="#666" stroke-width="0.6"/>
<line x1="507.28" y1="30.00" x2="507.28" y2="32.10" stroke="#666" stroke-width="0.6"/>
<line x1="518.57" y1="236.30" x2="518.57" y2="234.20" stroke="#666" stroke-width="0.6"/>
<line x1="518.57" y1="30.00" x2="518.57" y2="32.10" stroke="#666" stroke-width="0.6"/>
<line x1="529.86" y1="236.30" x2="529.86" y2="234.20" stroke="#666" stroke-width="0.6"/>
<line x1="529.86" y1="30.00" x2="529.86" y2="32.10" stroke="#666" stroke-width="0.6"/>
<line x1="541.15" y1="236.30" x2="541.15" y2="232.90" stroke="#666" stroke-width="0.6"/>
<line x1="541.15" y1="30.00" x2="541.15" y2="33.40" stroke="#666" stroke-width="0.6"/>
<line x1="552.44" y1="236.30" x2="552.44" y2="234.20" stroke="#666" stroke-width="0.6"/>
<line x1="552.44" y1="30.00" x2="552.44" y2="32.10" stroke="#666" stroke-width="0.6"/>
<line x1="563.73" y1="236.30" x2="563.73" y2="234.20" stroke="#666" stroke-width="0.6"/>
<line x1="563.73" y1="30.00" x2="563.73" y2="32.10" stroke="#666" stroke-width="0.6"/>
<line x1="575.02" y1="236.30" x2="575.02" y2="234.20" stroke="#666" stroke-width="0.6"/>
<line x1="575.02" y1="30.00" x2="575.02" y2="32.10" stroke="#666" stroke-width="0.6"/>
<line x1="586.31" y1="236.30" x2="586.31" y2="234.20" stroke="#666" stroke-width="0.6"/>
<line x1="586.31" y1="30.00" x2="586.31" y2="32.10" stroke="#666" stroke-width="0.6"/>
<line x1="597.60" y1="236.30" x2="597.60" y2="232.90" stroke="#666" stroke-width="0.6"/>
<line x1="597.60" y1="30.00" x2="597.60" y2="33.40" stroke="#666" stroke-width="0.6"/>
<line x1="608.89" y1="236.30" x2="608.89" y2="234.20" stroke="#666" stroke-width="0.6"/>
<line x1="608.89" y1="30.00" x2="608.89" y2="32.10" stroke="#666" stroke-width="0.6"/>
<line x1="620.18" y1="236.30" x2="620.18" y2="234.20" stroke="#666" stroke-width="0.6"/>
<line x1="620.18" y1="30.00" x2="620.18" y2="32.10" stroke="#666" stroke-width="0.6"/>
<line x1="631.47" y1="236.30" x2="631.47" y2="234.20" stroke="#666" stroke-width="0.6"/>
<line x1="631.47" y1="30.00" x2="631.47" y2="32.10" stroke="#666" stroke-width="0.6"/>
<line x1="642.76" y1="236.30" x2="642.76" y2="234.20" stroke="#666" stroke-width="0.6"/>
<line x1="642.76" y1="30.00" x2="642.76" y2="32.10" stroke="#666" stroke-width="0.6"/>
<line x1="654.05" y1="236.30" x2="654.05" y2="232.90" stroke="#666" stroke-width="0.6"/>
<line x1="654.05" y1="30.00" x2="654.05" y2="33.40" stroke="#666" stroke-width="0.6"/>
<line x1="665.34" y1="236.30" x2="665.34" y2="234.20" stroke="#666" stroke-width="0.6"/>
<line x1="665.34" y1="30.00" x2="665.34" y2="32.10" stroke="#666" stroke-width="0.6"/>
<line x1="676.63" y1="236.30" x2="676.63" y2="234.20" stroke="#666" stroke-width="0.6"/>
<line x1="676.63" y1="30.00" x2="676.63" y2="32.10" stroke="#666" stroke-width="0.6"/>
<line x1="687.92" y1="236.30" x2="687.92" y2="234.20" stroke="#666" stroke-width="0.6"/>
<line x1="687.92" y1="30.00" x2="687.92" y2="32.10" stroke="#666" stroke-width="0.6"/>
<line x1="699.21" y1="236.30" x2="699.21" y2="234.20" stroke="#666" stroke-width="0.6"/>
<line x1="699.21" y1="30.00" x2="699.21" y2="32.10" stroke="#666" stroke-width="0.6"/>
<line x1="710.50" y1="236.30" x2="710.50" y2="232.90" stroke="#666" stroke-width="0.6"/>
<line x1="710.50" y1="30.00" x2="710.50" y2="33.40" stroke="#666" stroke-width="0.6"/>
<line x1="721.79" y1="236.30" x2="721.79" y2="234.20" stroke="#666" stroke-width="0.6"/>
<line x1="721.79" y1="30.00" x2="721.79" y2="32.10" stroke="#666" stroke-width="0.6"/>
<line x1="733.08" y1="236.30" x2="733.08" y2="234.20" stroke="#666" stroke-width="0.6"/>
<line x1="733.08" y1="30.00" x2="733.08" y2="32.10" stroke="#666" stroke-width="0.6"/>
<line x1="744.37" y1="236.30" x2="744.37" y2="234.20" stroke="#666" stroke-width="0.6"/>
<line x1="744.37" y1="30.00" x2="744.37" y2="32.10" stroke="#666" stroke-width="0.6"/>
<line x1="755.66" y1="236.30" x2="755.66" y2="234.20" stroke="#666" stroke-width="0.6"/>
<line x1="755.66" y1="30.00" x2="755.66" y2="32.10" stroke="#666" stroke-width="0.6"/>
<line x1="766.95" y1="236.30" x2="766.95" y2="232.90" stroke="#666" stroke-width="0.6"/>
<line x1="766.95" y1="30.00" x2="766.95" y2="33.40" stroke="#666" stroke-width="0.6"/>
<line x1="778.24" y1="236.30" x2="778.24" y2="234.20" stroke="#666" stroke-width="0.6"/>
<line x1="778.24" y1="30.00" x2="778.24" y2="32.10" stroke="#666" stroke-width="0.6"/>
<line x1="789.53" y1="236.30" x2="789.53" y2="234.20" stroke="#666" stroke-width="0.6"/>
<line x1="789.53" y1="30.00" x2="789.53" y2="32.10" stroke="#666" stroke-width="0.6"/>
<line x1="800.82" y1="236.30" x2="800.82" y2="234.20" stroke="#666" stroke-width="0.6"/>
<line x1="800.82" y1="30.00" x2="800.82" y2="32.10" stroke="#666" stroke-width="0.6"/>
<line x1="812.11" y1="236.30" x2="812.11" y2="234.20" stroke="#666" stroke-width="0.6"/>
<line x1="812.11" y1="30.00" x2="812.11" y2="32.10" stroke="#666" stroke-width="0.6"/>
<line x1="484.60" y1="233.21" x2="486.70" y2="233.21" stroke="#666" stroke-width="0.6"/>
<line x1="818.80" y1="233.21" x2="816.70" y2="233.21" stroke="#666" stroke-width="0.6"/>
<line x1="484.60" y1="226.18" x2="486.70" y2="226.18" stroke="#666" stroke-width="0.6"/>
<line x1="818.80" y1="226.18" x2="816.70" y2="226.18" stroke="#666" stroke-width="0.6"/>
<line x1="484.60" y1="219.15" x2="488.00" y2="219.15" stroke="#666" stroke-width="0.6"/>
<line x1="818.80" y1="219.15" x2="815.40" y2="219.15" stroke="#666" stroke-width="0.6"/>
<line x1="484.60" y1="212.12" x2="486.70" y2="212.12" stroke="#666" stroke-width="0.6"/>
<line x1="818.80" y1="212.12" x2="816.70" y2="212.12" stroke="#666" stroke-width="0.6"/>
<line x1="484.60" y1="205.09" x2="486.70" y2="205.09" stroke="#666" stroke-width="0.6"/>
<line x1="818.80" y1="205.09" x2="816.70" y2="205.09" stroke="#666" stroke-width="0.6"/>
<line x1="484.60" y1="198.06" x2="486.70" y2="198.06" stroke="#666" stroke-width="0.6"/>
<line x1="818.80" y1="198.06" x2="816.70" y2="198.06" stroke="#666" stroke-width="0.6"/>
<line x1="484.60" y1="191.03" x2="486.70" y2="191.03" stroke="#666" stroke-width="0.6"/>
<line x1="818.80" y1="191.03" x2="816.70" y2="191.03" stroke="#666" stroke-width="0.6"/>
<line x1="484.60" y1="184.00" x2="488.00" y2="184.00" stroke="#666" stroke-width="0.6"/>
<line x1="818.80" y1="184.00" x2="815.40" y2="184.00" stroke="#666" stroke-width="0.6"/>
<line x1="484.60" y1="176.97" x2="486.70" y2="176.97" stroke="#666" stroke-width="0.6"/>
<line x1="818.80" y1="176.97" x2="816.70" y2="176.97" stroke="#666" stroke-width="0.6"/>
<line x1="484.60" y1="169.94" x2="486.70" y2="169.94" stroke="#666" stroke-width="0.6"/>
<line x1="818.80" y1="169.94" x2="816.70" y2="169.94" stroke="#666" stroke-width="0.6"/>
<line x1="484.60" y1="162.91" x2="486.70" y2="162.91" stroke="#666" stroke-width="0.6"/>
<line x1="818.80" y1="162.91" x2="816.70" y2="162.91" stroke="#666" stroke-width="0.6"/>
<line x1="484.60" y1="155.88" x2="486.70" y2="155.88" stroke="#666" stroke-width="0.6"/>
<line x1="818.80" y1="155.88" x2="816.70" y2="155.88" stroke="#666" stroke-width="0.6"/>
<line x1="484.60" y1="148.85" x2="488.00" y2="148.85" stroke="#666" stroke-width="0.6"/>
<line x1="818.80" y1="148.85" x2="815.40" y2="148.85" stroke="#666" stroke-width="0.6"/>
<line x1="484.60" y1="141.82" x2="486.70" y2="141.82" stroke="#666" stroke-width="0.6"/>
<line x1="818.80" y1="141.82" x2="816.70" y2="141.82" stroke="#666" stroke-width="0.6"/>
<line x1="484.60" y1="134.79" x2="486.70" y2="134.79" stroke="#666" stroke-width="0.6"/>
<line x1="818.80" y1="134.79" x2="816.70" y2="134.79" stroke="#666" stroke-width="0.6"/>
<line x1="484.60" y1="127.76" x2="486.70" y2="127.76" stroke="#666" stroke-width="0.6"/>
<line x1="818.80" y1="127.76" x2="816.70" y2="127.76" stroke="#666" stroke-width="0.6"/>
<line x1="484.60" y1="120.73" x2="486.70" y2="120.73" stroke="#666" stroke-width="0.6"/>
<line x1="818.80" y1="120.73" x2="816.70" y2="120.73" stroke="#666" stroke-width="0.6"/>
<line x1="484.60" y1="113.70" x2="488.00" y2="113.70" stroke="#666" stroke-width="0.6"/>
<line x1="818.80" y1="113.70" x2="815.40" y2="113.70" stroke="#666" stroke-width="0.6"/>
<line x1="484.60" y1="106.67" x2="486.70" y2="106.67" stroke="#666" stroke-width="0.6"/>
<line x1="818.80" y1="106.67" x2="816.70" y2="106.67" stroke="#666" stroke-width="0.6"/>
<line x1="484.60" y1="99.64" x2="486.70" y2="99.64" stroke="#666" stroke-width="0.6"/>
<line x1="818.80" y1="99.64" x2="816.70" y2="99.64" stroke="#666" stroke-width="0.6"/>
<line x1="484.60" y1="92.61" x2="486.70" y2="92.61" stroke="#666" stroke-width="0.6"/>
<line x1="818.80" y1="92.61" x2="816.70" y2="92.61" stroke="#666" stroke-width="0.6"/>
<line x1="484.60" y1="85.58" x2="486.70" y2="85.58" stroke="#666" stroke-width="0.6"/>
<line x1="818.80" y1="85.58" x2="816.70" y2="85.58" stroke="#666" stroke-width="0.6"/>
<line x1="484.60" y1="78.55" x2="488.00" y2="78.55" stroke="#666" stroke-width="0.6"/>
<line x1="818.80" y1="78.55" x2="815.40" y2="78.55" stroke="#666" stroke-width="0.6"/>
<line x1="484.60" y1="71.52" x2="486.70" y2="71.52" stroke="#666" stroke-width="0.6"/>
<line x1="818.80" y1="71.52" x2="816.70" y2="71.52" stroke="#666" stroke-width="0.6"/>
<line x1="484.60" y1="64.49" x2="486.70" y2="64.49" stroke="#666" stroke-width="0.6"/>
<line x1="818.80" y1="64.49" x2="816.70" y2="64.49" stroke="#666" stroke-width="0.6"/>
<line x1="484.60" y1="57.46" x2="486.70" y2="57.46" stroke="#666" stroke-width="0.6"/>
<line x1="818.80" y1="57.46" x2="816.70" y2="57.46" stroke="#666" stroke-width="0.6"/>
<line x1="484.60" y1="50.43" x2="486.70" y2="50.43" stroke="#666" stroke-width="0.6"/>
<line x1="818.80" y1="50.43" x2="816.70" y2="50.43" stroke="#666" stroke-width="0.6"/>
<line x1="484.60" y1="43.40" x2="488.00" y2="43.40" stroke="#666" stroke-width="0.6"/>
<line x1="818.80" y1="43.40" x2="815.40" y2="43.40" stroke="#666" stroke-width="0.6"/>
<line x1="484.60" y1="36.37" x2="486.70" y2="36.37" stroke="#666" stroke-width="0.6"/>
<line x1="818.80" y1="36.37" x2="816.70" y2="36.37" stroke="#666" stroke-width="0.6"/>
</g>
<path d="M490.50 40.52 L493.20 41.24 L495.90 41.97 L498.59 42.71 L501.29 43.47 L503.99 44.23 L506.69 45.00 L509.39 45.78 L512.09 46.57 L514.78 47.37 L517.48 48.17 L520.18 48.99 L522.88 49.81 L525.58 50.65 L528.28 51.49 L530.97 52.34 L533.67 53.20 L536.37 54.07 L539.07 54.94 L541.77 55.83 L544.47 56.72 L547.16 57.62 L549.86 58.53 L552.56 59.45 L555.26 60.38 L557.96 61.31 L560.66 62.26 L563.35 63.21 L566.05 64.17 L568.75 65.14 L571.45 66.12 L574.15 67.11 L576.85 68.11 L579.54 69.11 L582.24 70.13 L584.94 71.16 L587.64 72.19 L590.34 73.24 L593.04 74.29 L595.73 75.36 L598.43 76.43 L601.13 77.52 L603.83 78.61 L606.53 79.72 L609.23 80.84 L611.92 81.97 L614.62 83.11 L617.32 84.27 L620.02 85.43 L622.72 86.61 L625.42 87.80 L628.11 89.01 L630.81 90.22 L633.51 91.45 L636.21 92.70 L638.91 93.96 L641.61 95.23 L644.30 96.52 L647.00 97.82 L649.70 99.14 L652.40 100.48 L655.10 101.83 L657.80 103.20 L660.49 104.58 L663.19 105.99 L665.89 107.41 L668.59 108.85 L671.29 110.31 L673.99 111.78 L676.68 113.28 L679.38 114.80 L682.08 116.34 L684.78 117.90 L687.48 119.48 L690.18 121.08 L692.87 122.71 L695.57 124.36 L698.27 126.04 L700.97 127.73 L703.67 129.46 L706.37 131.21 L709.06 132.98 L711.76 134.78 L714.46 136.61 L717.16 138.47 L719.86 140.35 L722.56 142.27 L725.25 144.21 L727.95 146.19 L730.65 148.19 L733.35 150.23 L736.05 152.30 L738.75 154.40 L741.44 156.54 L744.14 158.71 L746.84 160.91 L749.54 163.16 L752.24 165.43 L754.94 167.75 L757.63 170.10 L760.33 172.50 L763.03 174.93 L765.73 177.40 L768.43 179.91 L771.13 182.47 L773.82 185.07 L776.52 187.71 L779.22 190.39 L781.92 193.13 L784.62 195.90 L787.32 198.73 L790.01 201.60 L792.71 204.52 L795.41 207.49 L798.11 210.51 L800.81 213.58 L803.51 216.71 L806.20 219.89 L808.90 223.12 L811.60 226.40" fill="none" stroke="#5E81B5" stroke-width="1.6"/>
<circle cx="490.50" cy="40.50" r="4.6" fill="#ff0000"/>
<circle cx="570.50" cy="65.90" r="4.6" fill="#ff0000"/>
<circle cx="610.90" cy="81.50" r="4.6" fill="#ff0000"/>
<circle cx="647.20" cy="97.60" r="4.6" fill="#ff0000"/>
<circle cx="680.30" cy="115.50" r="4.6" fill="#ff0000"/>
<circle cx="709.90" cy="133.80" r="4.6" fill="#ff0000"/>
<circle cx="736.80" cy="152.70" r="4.6" fill="#ff0000"/>
<circle cx="760.90" cy="173.10" r="4.6" fill="#ff0000"/>
<circle cx="782.90" cy="194.00" r="4.6" fill="#ff0000"/>
<circle cx="803.30" cy="216.30" r="4.6" fill="#ff0000"/>
<circle cx="811.60" cy="226.60" r="4.6" fill="#ff0000"/>
<g class="t">
<line x1="456.31" y1="43.40" x2="462.74" y2="43.40" stroke="#000" stroke-width="0.78"/><text x="456.05 464.55 471.05 474.30" y="47.10" style="font-size:13px"><tspan class="h">−</tspan>4.0</text>
<line x1="456.31" y1="78.55" x2="462.74" y2="78.55" stroke="#000" stroke-width="0.78"/><text x="456.05 464.55 471.05 474.30" y="82.25" style="font-size:13px"><tspan class="h">−</tspan>4.5</text>
<line x1="456.31" y1="113.69" x2="462.74" y2="113.69" stroke="#000" stroke-width="0.78"/><text x="456.05 464.55 471.05 474.30" y="117.40" style="font-size:13px"><tspan class="h">−</tspan>5.0</text>
<line x1="456.31" y1="148.84" x2="462.74" y2="148.84" stroke="#000" stroke-width="0.78"/><text x="456.05 464.55 471.05 474.30" y="152.55" style="font-size:13px"><tspan class="h">−</tspan>5.5</text>
<line x1="456.31" y1="183.99" x2="462.74" y2="183.99" stroke="#000" stroke-width="0.78"/><text x="456.05 464.55 471.05 474.30" y="187.70" style="font-size:13px"><tspan class="h">−</tspan>6.0</text>
<line x1="456.31" y1="219.14" x2="462.74" y2="219.14" stroke="#000" stroke-width="0.78"/><text x="456.05 464.55 471.05 474.30" y="222.85" style="font-size:13px"><tspan class="h">−</tspan>6.5</text>
<line x1="468.73" y1="246.79" x2="475.17" y2="246.79" stroke="#000" stroke-width="0.78"/><text x="468.47 476.98 483.48 486.73 493.23" y="250.50" style="font-size:13px"><tspan class="h">−</tspan>0.20</text>
<line x1="525.18" y1="246.79" x2="531.62" y2="246.79" stroke="#000" stroke-width="0.78"/><text x="524.92 533.43 539.93 543.18 549.68" y="250.50" style="font-size:13px"><tspan class="h">−</tspan>0.15</text>
<line x1="581.63" y1="246.79" x2="588.07" y2="246.79" stroke="#000" stroke-width="0.78"/><text x="581.37 589.88 596.38 599.63 606.13" y="250.50" style="font-size:13px"><tspan class="h">−</tspan>0.10</text>
<line x1="638.08" y1="246.79" x2="644.52" y2="246.79" stroke="#000" stroke-width="0.78"/><text x="637.82 646.33 652.83 656.08 662.58" y="250.50" style="font-size:13px"><tspan class="h">−</tspan>0.05</text>
<text x="699.12 705.62 708.88 715.38" y="250.50" style="font-size:13px">0.00</text>
<text x="755.58 762.08 765.33 771.83" y="250.50" style="font-size:13px">0.05</text>
<text x="647.9" y="270.7" style="font-size:13px">λ</text>
</g>
<g class="t" transform="translate(439.3,200) rotate(-90)">
<text x="21.20" y="0.00" style="font-size:13px;">(</text>
<text x="25.70" y="0.00" style="font-size:13px;font-style:italic">T</text>
<path d="M27.60 -10.63 Q28.79 -12.88 29.80 -11.30 T32.00 -11.98" fill="none" stroke="#000" stroke-width="0.85" stroke-linecap="round"/>
<text x="34.00" y="2.60" style="font-size:9.5px;font-style:italic">c</text>
<line x1="39.40" y1="-3.60" x2="45.60" y2="-3.60" stroke="#000" stroke-width="0.85"/>
<line x1="48.50" y1="-3.60" x2="65.20" y2="-3.60" stroke="#000" stroke-width="0.8"/>
<text x="52.90" y="-10.10" style="font-size:13px;">1</text>
<text x="48.20" y="9.70" style="font-size:13px;">2</text>
<text x="57.10" y="9.70" style="font-size:13px;">π</text>
<text x="65.80" y="0.00" style="font-size:13px;">)</text>
<text x="70.80" y="0.00" style="font-size:13px;">(</text>
<line x1="75.65" y1="-6.90" x2="81.85" y2="-0.70" stroke="#000" stroke-width="0.85"/>
<line x1="75.65" y1="-0.70" x2="81.85" y2="-6.90" stroke="#000" stroke-width="0.85"/>
<text x="82.40" y="0.00" style="font-size:13px;">1</text>
<text x="88.95" y="0.00" style="font-size:13px;">0</text>
<line x1="95.45" y1="-8.45" x2="100.45" y2="-8.45" stroke="#000" stroke-width="0.7"/>
<text x="101.40" y="-5.70" style="font-size:9.5px;">8</text>
<text x="107.35" y="0.00" style="font-size:13px;">)</text>
</g>
<g id="outer">
<rect x="6.7" y="29.0" width="816.7" height="273.3" fill="none" stroke="#3a3a3a" stroke-width="1"/>
<line x1="415.05" y1="29.00" x2="415.05" y2="302.30" stroke="#3a3a3a" stroke-width="1.0"/>
</g>
</svg>
</body></html>
